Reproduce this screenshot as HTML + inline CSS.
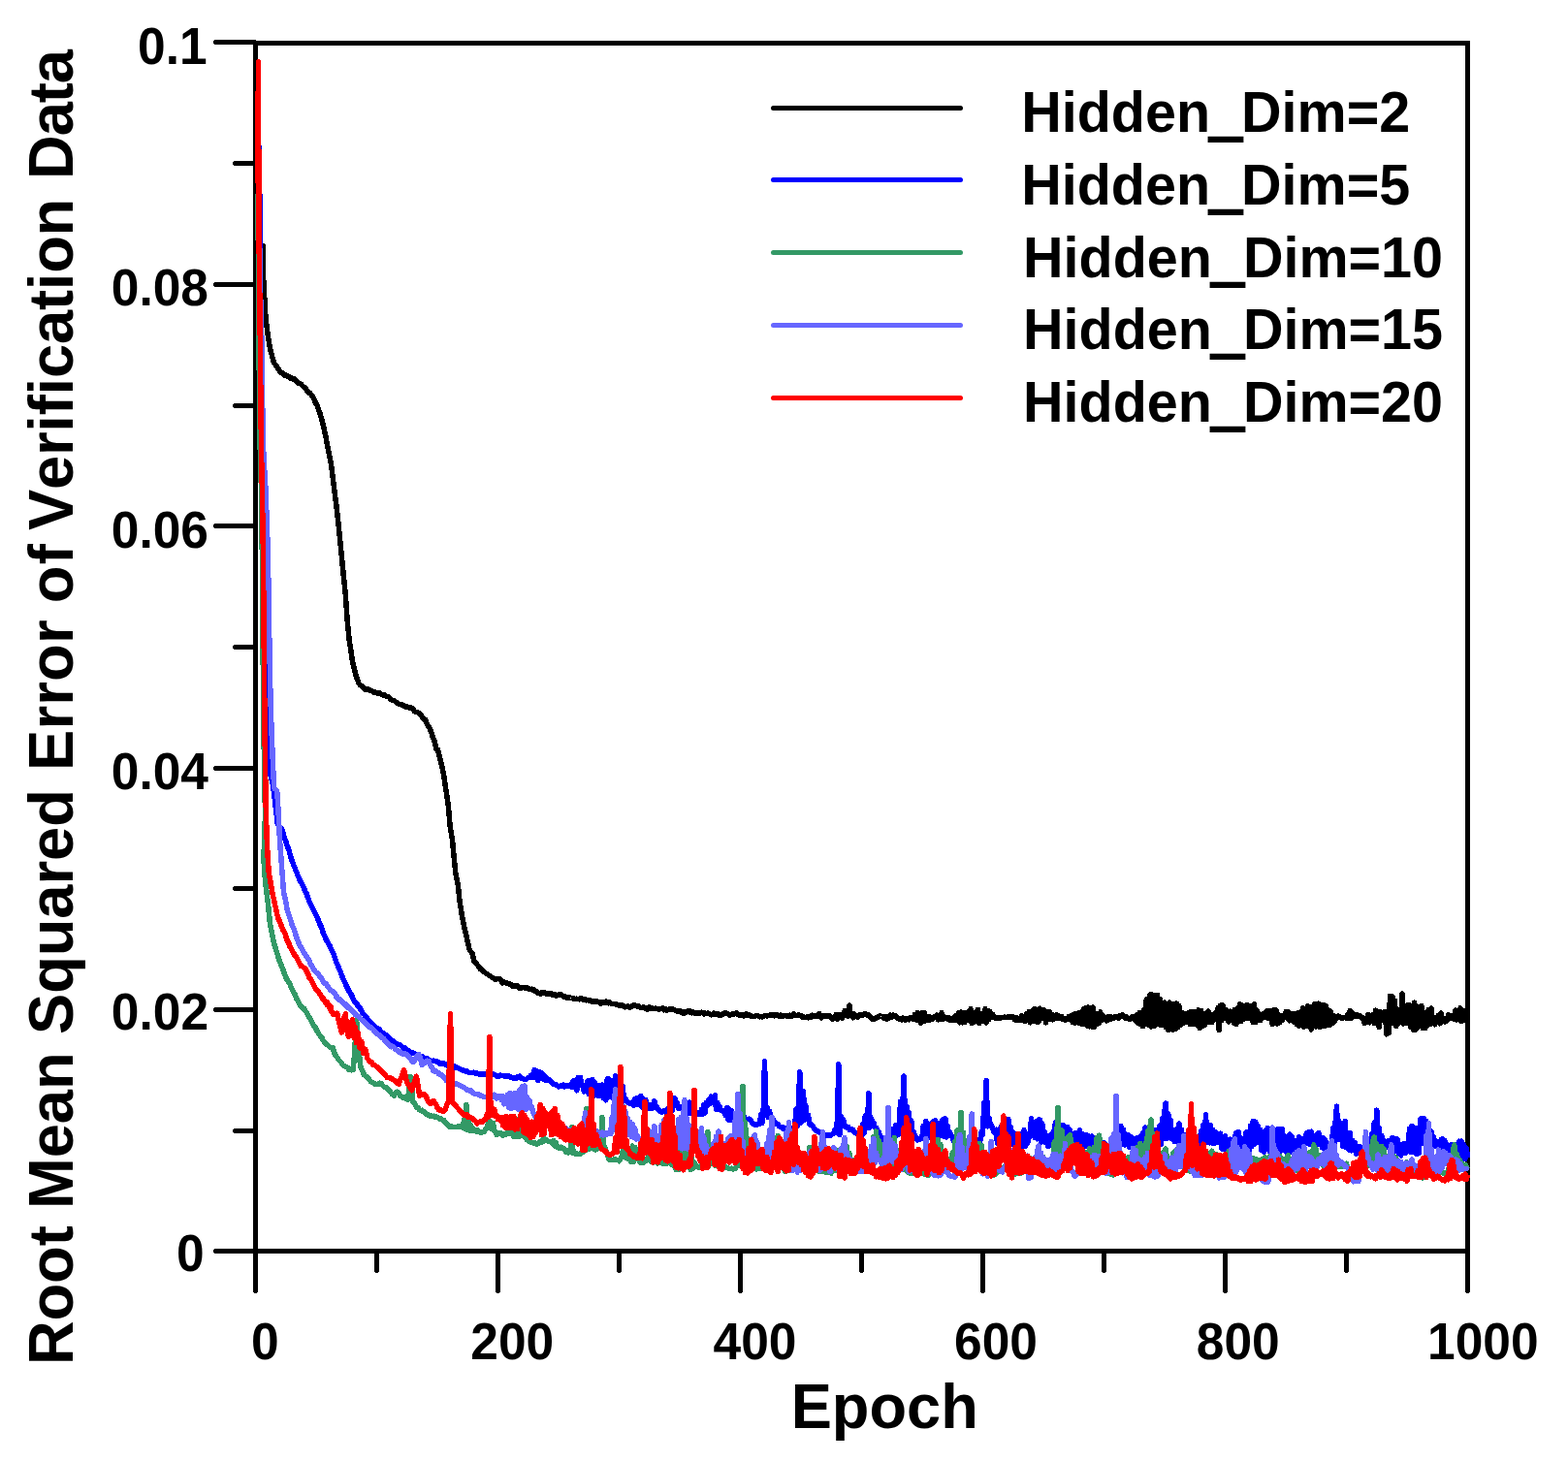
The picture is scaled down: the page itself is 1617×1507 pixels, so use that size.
<!DOCTYPE html>
<html lang="en">
<head>
<meta charset="utf-8">
<title>Root Mean Squared Error of Verification Data vs Epoch</title>
<style>
html, body { margin: 0; padding: 0; background: #ffffff; }
body { width: 1617px; height: 1507px; overflow: hidden; }
svg { display: block; }
text { font-family: "Liberation Sans", sans-serif; font-weight: bold; fill: #000000; font-kerning: none; font-variant-ligatures: none; font-feature-settings: "kern" 0, "liga" 0, "clig" 0; }
.tick { font-size: 51.5px; }
.title { font-size: 63.2px; }
.leg { font-size: 57.5px; }
.ax { stroke: #000000; stroke-width: 5; fill: none; stroke-linecap: round; }
.curve { fill: none; stroke-width: 5.5; stroke-linejoin: round; stroke-linecap: butt; }
</style>
</head>
<body>
<svg width="1617" height="1507" viewBox="0 0 1617 1507">
<rect x="0" y="0" width="1617" height="1507" fill="#ffffff"/>
<g id="axes" shape-rendering="crispEdges">
<rect x="263.5" y="44.5" width="1250.0" height="1246.0" fill="none" stroke="#000" stroke-width="5"/>
<path d="M221,1288 H263.5 V1293 H221 L220,1292 V1289 Z" fill="#000"/>
<path d="M241,1164 H263.5 V1169 H241 L240,1168 V1165 Z" fill="#000"/>
<path d="M221,1039 H263.5 V1044 H221 L220,1043 V1040 Z" fill="#000"/>
<path d="M241,914 H263.5 V919 H241 L240,918 V915 Z" fill="#000"/>
<path d="M221,790 H263.5 V795 H221 L220,794 V791 Z" fill="#000"/>
<path d="M241,665 H263.5 V670 H241 L240,669 V666 Z" fill="#000"/>
<path d="M221,540 H263.5 V545 H221 L220,544 V541 Z" fill="#000"/>
<path d="M241,416 H263.5 V421 H241 L240,420 V417 Z" fill="#000"/>
<path d="M221,291 H263.5 V296 H221 L220,295 V292 Z" fill="#000"/>
<path d="M241,166 H263.5 V171 H241 L240,170 V167 Z" fill="#000"/>
<path d="M221,41 H263.5 V46 H221 L220,45 V42 Z" fill="#000"/>
<path d="M261.0,1290.5 V1332.5 L262.0,1333.7 L263.0,1334 H264.0 L265.0,1333.7 L266.0,1332.5 V1290.5 Z" fill="#000"/>
<path d="M386.0,1290.5 V1311.5 L387.0,1312.7 L388.0,1313 H389.0 L390.0,1312.7 L391.0,1311.5 V1290.5 Z" fill="#000"/>
<path d="M511.0,1290.5 V1332.5 L512.0,1333.7 L513.0,1334 H514.0 L515.0,1333.7 L516.0,1332.5 V1290.5 Z" fill="#000"/>
<path d="M636.0,1290.5 V1311.5 L637.0,1312.7 L638.0,1313 H639.0 L640.0,1312.7 L641.0,1311.5 V1290.5 Z" fill="#000"/>
<path d="M761.0,1290.5 V1332.5 L762.0,1333.7 L763.0,1334 H764.0 L765.0,1333.7 L766.0,1332.5 V1290.5 Z" fill="#000"/>
<path d="M886.0,1290.5 V1311.5 L887.0,1312.7 L888.0,1313 H889.0 L890.0,1312.7 L891.0,1311.5 V1290.5 Z" fill="#000"/>
<path d="M1011.0,1290.5 V1332.5 L1012.0,1333.7 L1013.0,1334 H1014.0 L1015.0,1333.7 L1016.0,1332.5 V1290.5 Z" fill="#000"/>
<path d="M1136.0,1290.5 V1311.5 L1137.0,1312.7 L1138.0,1313 H1139.0 L1140.0,1312.7 L1141.0,1311.5 V1290.5 Z" fill="#000"/>
<path d="M1261.0,1290.5 V1332.5 L1262.0,1333.7 L1263.0,1334 H1264.0 L1265.0,1333.7 L1266.0,1332.5 V1290.5 Z" fill="#000"/>
<path d="M1386.0,1290.5 V1311.5 L1387.0,1312.7 L1388.0,1313 H1389.0 L1390.0,1312.7 L1391.0,1311.5 V1290.5 Z" fill="#000"/>
<path d="M1511.0,1290.5 V1332.5 L1512.0,1333.7 L1513.0,1334 H1514.0 L1515.0,1333.7 L1516.0,1332.5 V1290.5 Z" fill="#000"/>
</g>
<g id="curves" shape-rendering="crispEdges">
<polyline class="curve" stroke="#000000" points="265.5,253.2 270.9,253.2 271.2,280.0 272.4,300.0 273.2,316.0 274.2,330.0 276.3,346.2 278.5,359.4 281.2,369.5 282.5,374.0 289.8,384.7 291.1,384.7 292.5,386.3 293.8,387.3 295.1,387.1 296.4,387.9 297.8,388.5 299.1,389.5 300.4,390.6 301.8,390.2 303.1,391.3 304.4,391.2 305.7,393.4 307.1,394.2 308.4,395.7 309.7,395.6 311.1,396.9 312.4,398.5 313.7,399.3 315.2,400.5 316.6,403.1 318.1,405.0 319.5,405.2 321.0,407.2 322.5,408.8 324.0,412.1 325.5,415.8 327.0,417.8 328.3,421.9 329.6,425.3 331.0,429.8 332.3,434.5 333.6,440.0 334.9,445.6 336.3,452.3 337.6,459.9 338.9,466.0 340.2,472.9 341.6,479.8 343.2,492.5 344.9,506.4 346.6,518.9 348.2,532.9 349.5,545.3 350.9,559.4 352.2,572.3 353.5,586.0 354.8,598.7 356.2,612.5 358.2,640.0 360.1,659.9 361.8,670.1 363.5,682.5 365.1,689.2 366.8,695.7 368.4,700.5 370.1,705.0 371.6,706.9 373.2,707.7 374.8,709.7 376.1,710.8 377.4,711.5 378.7,710.8 380.1,711.0 381.4,712.1 382.7,712.3 384.0,713.2 385.4,714.1 386.7,713.8 388.0,714.7 389.4,715.0 390.7,714.6 392.0,715.2 393.3,716.3 394.7,716.9 396.0,716.3 397.3,717.7 398.6,718.5 400.0,718.4 401.3,719.3 402.6,721.0 403.9,721.9 405.3,722.4 406.6,722.7 407.9,723.9 409.3,725.1 410.6,725.6 411.9,726.6 413.2,726.6 414.6,727.0 415.9,727.6 417.2,728.7 418.6,729.0 419.9,729.1 421.2,729.7 422.5,730.2 423.9,730.1 425.2,730.5 426.5,732.3 427.8,734.1 429.2,734.6 430.5,734.8 431.8,735.5 433.1,736.3 434.5,738.0 435.8,740.3 437.1,741.7 438.4,742.2 439.8,745.3 441.1,748.4 442.4,750.0 443.8,752.8 445.1,756.3 446.4,760.7 447.7,763.4 450.0,772.7 451.6,773.3 453.2,780.4 454.9,786.5 457.4,798.2 459.9,814.7 462.4,831.3 464.0,851.2 466.5,866.2 468.2,884.4 469.8,901.0 472.3,912.6 474.0,929.2 476.4,944.1 478.9,957.4 481.4,967.4 483.9,979.0 485.6,981.6 487.2,984.0 488.9,991.4 490.6,993.0 492.2,995.2 493.9,997.2 495.3,999.5 496.8,999.6 498.2,1001.9 499.7,1003.0 509.8,1009.7 511.0,1010.2 512.2,1009.8 513.5,1009.7 514.8,1009.7 516.0,1010.2 517.2,1012.4 518.5,1013.9 519.8,1013.1 521.0,1013.6 522.2,1013.9 523.5,1014.5 524.8,1014.8 526.0,1014.8 527.2,1016.1 528.5,1017.1 529.8,1016.7 531.0,1016.9 532.2,1016.7 533.5,1016.8 534.8,1018.4 536.0,1019.4 537.2,1019.4 538.5,1018.6 539.8,1018.7 541.0,1018.8 542.2,1019.4 543.5,1019.0 544.8,1019.8 546.0,1020.2 547.2,1020.7 548.5,1020.2 549.8,1021.6 551.0,1021.0 552.2,1022.5 553.5,1022.9 554.8,1024.2 556.0,1024.5 557.2,1025.3 558.5,1024.0 559.8,1024.3 561.0,1023.9 562.2,1024.0 563.5,1025.2 564.8,1025.3 566.0,1025.3 567.2,1024.5 568.5,1024.8 569.8,1026.4 571.0,1026.8 572.2,1025.9 573.5,1027.0 574.8,1026.8 576.0,1026.2 577.2,1025.7 578.5,1025.9 579.8,1027.0 581.0,1027.9 582.2,1027.9 583.5,1028.7 584.8,1029.4 586.0,1029.5 587.2,1028.4 588.5,1029.5 589.8,1029.5 591.0,1029.4 592.2,1030.4 593.5,1030.6 594.8,1030.2 596.0,1030.5 597.2,1030.8 598.5,1029.9 599.8,1029.7 601.0,1031.1 602.2,1030.9 603.5,1030.9 604.8,1031.8 606.0,1031.4 607.2,1032.1 608.5,1032.0 609.8,1032.9 611.0,1033.0 612.2,1033.4 613.5,1033.0 614.8,1032.5 616.0,1033.3 617.2,1033.3 618.5,1034.2 619.8,1035.3 621.0,1033.7 622.2,1033.3 623.5,1034.1 624.8,1033.2 626.0,1034.4 627.2,1034.8 628.5,1033.7 629.8,1035.0 631.0,1035.7 632.2,1035.3 633.5,1035.4 634.8,1035.6 636.0,1036.2 637.2,1036.6 638.5,1037.1 639.8,1037.1 641.0,1037.3 642.2,1037.1 643.5,1038.2 644.8,1038.8 646.0,1038.5 647.2,1038.1 648.5,1038.2 649.8,1039.2 651.0,1038.1 652.2,1037.9 653.5,1036.7 654.8,1037.0 656.0,1037.7 657.2,1038.0 658.5,1037.7 659.8,1038.8 661.0,1039.8 662.2,1039.4 663.5,1038.8 664.8,1039.9 666.0,1040.2 667.2,1041.3 668.5,1039.6 669.8,1038.8 671.0,1040.2 672.2,1039.6 673.5,1040.4 674.8,1040.7 676.0,1040.0 677.2,1040.6 678.5,1040.6 679.8,1041.3 681.0,1040.4 682.2,1040.5 683.5,1040.0 684.8,1041.7 686.0,1040.7 687.2,1042.2 688.5,1041.9 689.8,1041.2 691.0,1041.4 692.2,1040.4 693.5,1041.1 694.8,1041.3 696.0,1042.1 697.2,1042.8 698.5,1043.0 699.8,1042.8 701.0,1042.5 702.2,1043.8 703.5,1044.8 704.8,1045.5 706.0,1043.8 707.2,1044.2 708.5,1043.5 709.8,1042.4 711.0,1044.1 712.2,1043.3 713.5,1044.8 714.8,1044.1 716.0,1044.2 717.2,1045.5 718.5,1045.6 719.8,1044.5 721.0,1045.5 722.2,1044.9 723.5,1044.2 724.8,1044.8 726.0,1046.1 727.2,1045.0 728.5,1045.7 729.8,1045.0 731.0,1045.2 732.2,1046.1 733.5,1046.8 734.8,1046.7 736.0,1045.0 737.2,1046.4 738.5,1045.7 739.8,1045.6 741.0,1046.4 742.2,1047.4 743.5,1047.5 744.8,1046.6 746.0,1045.3 747.2,1044.9 748.5,1045.0 749.8,1045.5 751.0,1045.8 752.2,1046.9 753.5,1046.8 754.8,1046.2 756.0,1046.3 757.2,1045.3 758.5,1045.2 759.8,1045.1 761.0,1046.3 762.2,1047.3 763.5,1047.2 764.8,1046.4 766.0,1046.7 767.2,1048.0 768.5,1046.8 769.8,1045.9 771.0,1047.5 772.2,1046.6 773.5,1047.5 774.8,1048.2 776.0,1048.5 777.2,1048.3 778.5,1048.3 779.8,1047.6 781.0,1047.3 782.2,1048.2 783.5,1048.8 784.8,1048.3 786.0,1049.0 787.2,1048.3 788.5,1047.7 789.8,1047.3 791.0,1047.9 792.2,1047.4 793.5,1047.6 794.8,1046.7 796.0,1047.6 797.2,1046.7 798.5,1047.8 799.8,1046.9 801.0,1046.7 802.2,1047.0 803.5,1048.2 804.8,1047.0 806.0,1047.4 807.2,1048.4 808.5,1047.9 809.8,1047.4 811.0,1047.7 812.2,1048.4 813.5,1048.3 814.8,1047.3 816.0,1048.6 817.2,1046.9 818.5,1045.4 819.8,1047.0 821.0,1047.3 822.2,1047.4 823.5,1047.1 824.8,1047.3 826.0,1047.5 827.2,1049.3 828.5,1048.9 829.8,1049.4 831.0,1049.8 832.2,1048.7 833.5,1049.9 834.8,1048.9 836.0,1049.7 837.2,1047.2 838.5,1047.3 839.8,1047.9 841.0,1048.0 842.2,1048.2 843.5,1048.4 844.8,1045.4 846.0,1048.9 847.2,1049.9 848.5,1048.0 849.8,1047.7 851.0,1047.8 852.2,1048.7 853.5,1047.9 854.8,1048.1 856.0,1048.0 857.2,1049.5 858.5,1051.1 859.8,1049.3 861.0,1049.8 862.2,1046.7 863.5,1051.3 864.8,1047.2 866.0,1049.3 867.2,1046.6 868.5,1050.3 869.8,1046.4 871.0,1042.6 872.2,1045.9 873.5,1045.0 874.8,1048.3 876.0,1037.1 877.2,1047.3 878.5,1045.6 879.8,1049.7 881.0,1046.2 882.2,1047.8 883.5,1048.2 884.8,1049.2 886.0,1047.1 887.2,1046.5 888.5,1047.6 889.8,1046.6 891.0,1046.1 892.2,1045.6 893.5,1046.9 894.8,1047.0 896.0,1046.8 897.2,1048.6 898.5,1050.3 899.8,1051.4 901.0,1051.8 902.2,1050.5 903.5,1049.7 904.8,1049.8 906.0,1048.6 907.2,1047.8 908.5,1048.5 909.8,1048.5 911.0,1048.8 912.2,1050.6 913.5,1048.8 914.8,1051.4 916.0,1048.5 917.2,1050.0 918.5,1047.1 919.8,1049.1 921.0,1047.1 922.2,1047.8 923.5,1047.8 924.8,1049.2 926.0,1050.4 927.2,1051.3 928.5,1050.7 929.8,1051.8 931.0,1050.2 932.2,1051.3 933.5,1052.5 934.8,1050.6 936.0,1051.5 937.2,1051.8 938.5,1049.5 939.8,1049.8 941.0,1049.8 942.2,1051.5 943.5,1046.3 944.8,1052.0 946.0,1044.6 947.2,1052.2 948.5,1045.5 949.8,1055.3 951.0,1044.5 952.2,1053.6 953.5,1044.8 954.8,1052.8 956.0,1048.5 957.2,1052.5 958.5,1049.0 959.8,1051.8 961.0,1050.5 962.2,1050.8 963.5,1048.6 964.8,1049.4 966.0,1047.1 967.2,1051.8 968.5,1047.2 969.8,1051.5 971.0,1044.5 972.2,1051.2 973.5,1049.0 974.8,1049.8 976.0,1049.5 977.2,1051.2 978.5,1050.0 979.8,1052.1 981.0,1050.9 982.2,1052.5 983.5,1049.6 984.8,1052.4 986.0,1047.4 987.2,1052.3 988.5,1045.0 989.8,1054.8 991.0,1044.0 992.2,1054.8 993.5,1044.9 994.8,1054.6 996.0,1044.7 997.2,1052.1 998.5,1043.9 999.8,1052.2 1001.0,1040.5 1002.2,1055.7 1003.5,1044.4 1004.8,1054.3 1006.0,1044.1 1007.2,1053.1 1008.5,1041.4 1009.8,1055.6 1011.0,1045.7 1012.2,1053.7 1013.5,1048.1 1014.8,1053.5 1016.0,1040.6 1017.2,1055.0 1018.5,1042.4 1019.8,1051.8 1021.0,1043.6 1022.2,1048.9 1023.5,1046.1 1024.8,1049.2 1026.0,1049.5 1027.2,1050.7 1028.5,1050.1 1029.8,1049.9 1031.0,1050.3 1032.2,1049.9 1033.5,1049.4 1034.8,1049.4 1036.0,1049.0 1037.2,1049.5 1038.5,1049.1 1039.8,1049.0 1041.0,1048.6 1042.2,1049.6 1043.5,1048.7 1044.8,1049.0 1046.0,1051.2 1047.2,1052.3 1048.5,1049.5 1049.8,1052.5 1051.0,1051.1 1052.2,1051.7 1053.5,1047.9 1054.8,1052.5 1056.0,1049.3 1057.2,1053.2 1058.5,1045.7 1059.8,1051.2 1061.0,1043.8 1062.2,1054.8 1063.5,1043.5 1064.8,1053.7 1066.0,1040.9 1067.2,1040.8 1068.5,1053.8 1069.8,1041.3 1071.0,1054.2 1072.2,1040.1 1073.5,1050.8 1074.8,1041.7 1076.0,1047.7 1077.2,1041.9 1078.5,1054.8 1079.8,1043.8 1081.0,1051.0 1082.2,1043.4 1083.5,1051.0 1084.8,1046.4 1086.0,1051.8 1087.2,1047.3 1088.5,1050.3 1089.8,1047.0 1091.0,1050.5 1092.2,1048.3 1093.5,1050.6 1094.8,1048.6 1096.0,1051.3 1097.2,1051.5 1098.5,1052.5 1099.8,1050.4 1101.0,1051.3 1102.2,1048.6 1103.5,1051.8 1104.8,1047.8 1106.0,1054.3 1107.2,1046.2 1108.5,1055.4 1109.8,1045.6 1111.0,1053.0 1112.2,1044.9 1113.5,1055.7 1114.8,1044.4 1116.0,1056.3 1117.2,1041.0 1118.5,1053.3 1119.8,1039.8 1121.0,1057.9 1122.2,1039.0 1123.5,1058.9 1124.8,1039.5 1126.0,1059.0 1127.2,1038.9 1128.5,1059.4 1129.8,1045.4 1131.0,1056.4 1132.2,1046.3 1133.5,1055.2 1134.8,1043.9 1136.0,1052.6 1137.2,1047.7 1138.5,1050.3 1139.8,1049.4 1141.0,1053.0 1142.2,1049.0 1143.5,1051.9 1144.8,1048.5 1146.0,1051.2 1147.2,1049.9 1148.5,1050.3 1149.8,1048.5 1151.0,1049.3 1152.2,1048.6 1153.5,1049.9 1154.8,1047.6 1156.0,1047.9 1157.2,1046.9 1158.5,1047.6 1159.8,1049.0 1161.0,1050.5 1162.2,1049.2 1163.5,1050.6 1164.8,1051.4 1166.0,1050.3 1167.2,1049.2 1168.5,1050.6 1169.8,1048.9 1171.0,1053.0 1172.2,1047.1 1173.5,1055.0 1174.8,1044.9 1176.0,1056.7 1177.2,1045.0 1178.5,1058.6 1179.8,1041.4 1181.0,1056.5 1182.2,1031.1 1183.5,1056.8 1184.8,1030.9 1186.0,1025.9 1187.2,1059.2 1188.5,1026.1 1189.8,1058.5 1191.0,1035.4 1192.2,1057.1 1193.5,1026.5 1194.8,1056.2 1196.0,1030.2 1197.2,1057.8 1198.5,1037.3 1199.8,1056.0 1201.0,1034.0 1202.2,1059.7 1203.5,1046.3 1204.8,1062.4 1206.0,1034.1 1207.2,1060.5 1208.5,1036.8 1209.8,1062.0 1211.0,1035.5 1212.2,1061.6 1213.5,1035.0 1214.8,1059.4 1216.0,1037.6 1217.2,1057.7 1218.5,1044.3 1219.8,1055.6 1221.0,1045.3 1222.2,1054.4 1223.5,1045.8 1224.8,1053.0 1226.0,1044.7 1227.2,1056.4 1228.5,1043.6 1229.8,1056.2 1231.0,1043.8 1232.2,1056.5 1233.5,1043.9 1234.8,1057.5 1236.0,1041.8 1237.2,1060.3 1238.5,1042.5 1239.8,1058.8 1241.0,1050.5 1242.2,1057.6 1243.5,1045.6 1244.8,1054.8 1246.0,1042.9 1247.2,1054.0 1248.5,1046.6 1249.8,1054.7 1251.0,1047.2 1252.2,1050.8 1253.5,1044.6 1254.8,1051.1 1256.0,1039.6 1257.2,1062.6 1258.5,1037.2 1259.8,1052.9 1261.0,1036.8 1262.2,1050.7 1263.5,1041.1 1264.8,1049.2 1266.0,1042.8 1267.2,1054.2 1268.5,1043.2 1269.8,1048.1 1271.0,1045.1 1272.2,1055.1 1273.5,1041.4 1274.8,1056.6 1276.0,1040.0 1277.2,1053.9 1278.5,1035.7 1279.8,1053.4 1281.0,1037.1 1282.2,1051.2 1283.5,1041.9 1284.8,1050.1 1286.0,1036.3 1287.2,1050.6 1288.5,1040.0 1289.8,1050.2 1291.0,1037.2 1292.2,1054.7 1293.5,1035.7 1294.8,1054.6 1296.0,1041.9 1297.2,1044.8 1298.5,1046.1 1299.8,1052.4 1301.0,1047.3 1302.2,1049.7 1303.5,1045.1 1304.8,1049.0 1306.0,1043.1 1307.2,1050.2 1308.5,1042.3 1309.8,1050.6 1311.0,1045.7 1312.2,1056.4 1313.5,1041.7 1314.8,1050.4 1316.0,1041.9 1317.2,1056.0 1318.5,1046.6 1319.8,1054.8 1321.0,1047.8 1322.2,1052.7 1323.5,1047.8 1324.8,1049.5 1326.0,1043.8 1327.2,1049.9 1328.5,1043.8 1329.8,1052.8 1331.0,1045.8 1332.2,1052.6 1333.5,1045.6 1334.8,1054.6 1336.0,1045.2 1337.2,1056.6 1338.5,1044.9 1339.8,1058.2 1341.0,1044.1 1342.2,1056.3 1343.5,1039.9 1344.8,1059.3 1346.0,1043.0 1347.2,1058.5 1348.5,1037.7 1349.8,1059.0 1351.0,1039.4 1352.2,1062.1 1353.5,1038.5 1354.8,1058.9 1356.0,1035.4 1357.2,1059.0 1358.5,1035.4 1359.8,1035.2 1361.0,1059.3 1362.2,1036.2 1363.5,1058.5 1364.8,1036.4 1366.0,1058.7 1367.2,1037.4 1368.5,1057.7 1369.8,1041.9 1371.0,1057.6 1372.2,1043.1 1373.5,1056.0 1374.8,1047.1 1376.0,1054.2 1377.2,1048.5 1378.5,1050.0 1379.8,1048.1 1381.0,1048.2 1382.2,1049.1 1383.5,1050.1 1384.8,1050.1 1386.0,1049.5 1387.2,1049.6 1388.5,1050.4 1389.8,1046.6 1391.0,1050.5 1392.2,1042.6 1393.5,1050.3 1394.8,1044.7 1396.0,1048.7 1397.2,1047.0 1398.5,1048.5 1399.8,1046.9 1401.0,1048.1 1402.2,1047.7 1403.5,1048.5 1404.8,1050.9 1406.0,1050.0 1407.2,1055.4 1408.5,1050.1 1409.8,1051.4 1411.0,1046.3 1412.2,1054.9 1413.5,1047.5 1414.8,1052.8 1416.0,1046.3 1417.2,1055.4 1418.5,1042.2 1419.8,1052.7 1421.0,1044.6 1422.2,1059.8 1423.5,1043.5 1424.8,1052.8 1426.0,1044.4 1427.2,1053.0 1428.5,1043.4 1429.8,1066.8 1431.0,1043.5 1432.2,1065.7 1433.5,1027.4 1434.8,1055.7 1436.0,1027.8 1437.2,1053.5 1438.5,1032.5 1439.8,1058.5 1441.0,1042.2 1442.2,1055.3 1443.5,1041.4 1444.8,1053.8 1446.0,1025.0 1447.2,1055.9 1448.5,1037.1 1449.8,1055.1 1451.0,1037.1 1452.2,1055.2 1453.5,1036.7 1454.8,1059.3 1456.0,1040.1 1457.2,1062.0 1458.5,1034.2 1459.8,1062.3 1461.0,1037.9 1462.2,1060.2 1463.5,1038.7 1464.8,1049.5 1466.0,1037.6 1467.2,1060.6 1468.5,1044.3 1469.8,1060.6 1471.0,1043.9 1472.2,1057.3 1473.5,1041.3 1474.8,1056.6 1476.0,1040.0 1477.2,1054.7 1478.5,1049.6 1479.8,1056.8 1481.0,1050.2 1482.2,1053.0 1483.5,1047.4 1484.8,1055.8 1486.0,1045.0 1487.2,1053.8 1488.5,1050.2 1489.8,1054.0 1491.0,1050.6 1492.2,1052.8 1493.5,1046.8 1494.8,1050.6 1496.0,1048.4 1497.2,1047.9 1498.5,1047.1 1499.8,1051.5 1501.0,1042.1 1502.2,1052.1 1503.5,1042.2 1504.8,1052.0 1506.0,1039.8 1507.2,1053.8 1508.5,1042.2 1509.8,1052.3 1511.0,1042.5 1512.2,1052.0"/>
<polyline class="curve" stroke="#0000ff" points="265.5,160.0 267.5,152.0 268.0,241.0 268.8,321.0 270.5,450.0 272.8,610.0 275.0,719.0 277.5,783.0 279.4,802.0 281.4,809.0 283.0,822.0 284.7,836.0 286.3,850.0 291.1,855.9 292.5,861.1 293.8,865.7 295.1,868.6 296.4,873.2 297.8,876.3 299.1,881.4 300.4,885.6 301.8,889.6 303.1,893.1 304.4,896.2 305.7,899.6 307.1,902.9 308.4,906.1 309.7,909.0 311.1,911.2 312.4,914.0 313.7,916.6 315.0,919.9 316.4,922.3 317.7,926.5 319.0,929.9 320.3,932.5 321.7,935.2 323.0,938.2 324.3,940.8 325.6,943.1 327.0,945.7 328.3,949.2 329.6,952.8 331.0,955.5 332.3,959.0 333.6,963.2 334.9,966.1 336.3,969.0 337.6,971.6 338.9,973.7 340.2,975.7 341.6,979.4 342.9,981.8 344.2,984.7 345.6,988.5 346.9,992.8 348.2,995.3 349.5,999.1 350.9,1001.4 352.2,1005.4 353.5,1008.8 354.8,1011.2 356.2,1014.6 357.5,1017.6 358.8,1020.1 360.1,1022.8 361.5,1024.5 362.8,1027.0 364.1,1030.1 365.5,1032.7 366.8,1033.8 368.1,1035.5 369.4,1037.7 370.8,1039.1 366.3,1033.3 367.6,1035.7 368.9,1037.2 370.2,1039.0 371.6,1040.8 372.9,1042.6 374.2,1045.1 375.6,1046.5 376.9,1048.6 378.2,1049.7 379.5,1052.1 380.9,1053.2 382.2,1055.4 383.5,1055.9 384.8,1057.0 386.2,1058.8 387.5,1059.9 388.8,1060.6 390.1,1061.1 391.5,1062.1 392.8,1063.8 394.1,1065.0 395.5,1065.4 396.8,1067.5 398.1,1067.8 399.4,1069.8 400.8,1070.1 402.1,1072.0 403.4,1073.0 404.8,1073.7 406.1,1074.4 407.4,1075.4 408.7,1076.4 410.1,1077.1 411.4,1077.4 412.7,1077.8 414.0,1078.9 415.4,1080.7 416.7,1081.3 418.0,1081.0 419.4,1082.4 420.7,1083.5 422.0,1084.5 423.3,1085.6 424.7,1085.3 426.0,1086.6 427.3,1086.3 428.6,1087.7 430.0,1088.2 431.3,1088.3 432.6,1088.5 433.9,1090.1 435.3,1089.7 436.6,1090.5 437.9,1091.8 439.3,1091.5 440.6,1091.7 441.9,1093.2 443.2,1093.3 444.6,1094.2 445.9,1094.3 447.2,1094.1 448.6,1094.6 449.9,1094.7 451.2,1095.8 452.5,1095.5 453.9,1097.2 455.2,1096.5 456.5,1097.6 457.8,1097.1 459.2,1098.3 460.5,1097.8 461.8,1099.2 463.1,1098.8 464.5,1098.8 465.8,1099.9 467.1,1100.0 468.4,1099.7 469.8,1101.4 471.1,1101.2 477.2,1103.8 478.5,1104.4 479.8,1104.8 481.0,1104.8 482.2,1105.4 483.5,1106.1 484.8,1106.6 486.0,1106.6 487.2,1106.3 488.5,1106.2 489.8,1106.8 491.0,1107.5 492.2,1107.0 493.5,1107.5 494.8,1108.3 496.0,1108.2 497.2,1107.7 498.5,1107.9 499.8,1108.3 501.0,1107.6 502.2,1107.5 503.5,1107.2 504.8,1107.4 506.0,1107.3 507.2,1107.5 508.5,1108.0 509.8,1108.5 511.0,1108.9 512.2,1110.1 513.5,1109.9 514.8,1109.9 516.0,1109.1 517.2,1109.3 518.5,1109.3 519.8,1109.3 521.0,1110.3 522.2,1110.3 523.5,1109.7 524.8,1109.8 526.0,1110.8 527.2,1111.2 528.5,1111.7 529.8,1112.3 531.0,1111.7 532.2,1112.3 533.5,1110.6 534.8,1110.5 536.0,1109.9 537.2,1111.9 538.5,1112.7 539.8,1112.9 541.0,1113.5 542.2,1113.6 543.5,1112.6 544.8,1111.3 546.0,1111.5 547.2,1109.4 548.5,1108.6 549.8,1111.0 551.0,1103.6 552.2,1111.4 553.5,1104.8 554.8,1114.5 556.0,1105.2 557.2,1112.3 558.5,1106.5 559.8,1112.8 561.0,1108.8 562.2,1114.2 563.5,1111.5 564.8,1113.9 566.0,1113.5 567.2,1114.4 568.5,1115.5 569.8,1118.0 571.0,1118.8 572.2,1118.5 573.5,1118.5 574.8,1120.0 576.0,1121.0 577.2,1120.5 578.5,1120.0 579.8,1119.9 581.0,1119.0 582.2,1121.0 583.5,1120.2 584.8,1120.7 586.0,1119.3 587.2,1119.9 588.5,1118.6 589.8,1121.6 591.0,1114.9 592.2,1119.8 593.5,1114.1 594.8,1124.8 596.0,1111.8 597.2,1119.1 598.5,1111.3 599.8,1119.5 601.0,1119.0 602.2,1125.9 603.5,1119.9 604.8,1121.7 606.0,1114.9 607.2,1128.4 608.5,1114.8 609.8,1129.5 611.0,1113.7 612.2,1130.8 613.5,1116.7 614.8,1128.2 616.0,1120.6 617.2,1130.5 618.5,1119.3 619.8,1129.9 621.0,1119.1 622.2,1132.9 623.5,1122.5 624.8,1134.8 626.0,1113.8 627.2,1112.5 628.5,1131.7 629.8,1114.1 631.0,1132.0 632.2,1114.7 633.5,1135.3 634.8,1109.9 636.0,1136.0 637.2,1113.2 638.5,1132.5 639.8,1113.7 641.0,1131.8 642.2,1120.1 643.5,1135.7 644.8,1132.9 646.0,1135.8 647.2,1137.2 648.5,1137.7 649.8,1138.2 651.0,1138.3 652.2,1137.1 653.5,1140.2 654.8,1133.5 656.0,1139.7 657.2,1132.4 658.5,1139.0 659.8,1134.1 661.0,1130.4 662.2,1142.2 663.5,1133.7 664.8,1143.5 666.0,1134.6 667.2,1143.3 668.5,1139.3 669.8,1142.9 671.0,1141.1 672.2,1143.4 673.5,1140.1 674.8,1135.8 676.0,1142.1 677.2,1141.8 678.5,1143.6 679.8,1145.5 681.0,1146.5 682.2,1147.0 683.5,1146.9 684.8,1145.5 686.0,1147.0 687.2,1144.8 688.5,1143.9 689.8,1142.4 691.0,1144.8 692.2,1141.5 693.5,1145.4 694.8,1133.2 696.0,1133.1 697.2,1140.6 698.5,1137.9 699.8,1143.2 701.0,1142.7 702.2,1143.7 703.5,1142.1 704.8,1144.7 706.0,1140.8 707.2,1145.6 708.5,1139.2 709.8,1148.2 711.0,1137.1 712.2,1148.0 713.5,1142.6 714.8,1148.2 716.0,1147.9 717.2,1147.6 718.5,1147.7 719.8,1149.1 721.0,1148.4 722.2,1149.2 723.5,1144.2 724.8,1149.4 726.0,1139.3 727.2,1147.9 728.5,1137.2 729.8,1139.8 731.0,1133.9 732.2,1138.4 733.5,1131.0 734.8,1136.3 736.0,1131.5 737.2,1129.8 738.5,1144.2 739.8,1137.5 741.0,1143.8 742.2,1141.5 743.5,1145.3 744.8,1145.4 746.0,1146.5 747.2,1147.2 748.5,1150.7 749.8,1142.3 751.0,1155.0 752.2,1144.0 753.5,1155.5 754.8,1146.0 756.0,1153.6 757.2,1148.5 758.5,1152.9 759.8,1149.2 761.0,1153.5 762.2,1151.5 763.5,1154.7 764.8,1151.5 766.0,1152.4 767.2,1151.5 768.5,1155.0 769.8,1154.8 771.0,1154.4 772.2,1154.2 773.5,1154.7 774.8,1156.3 776.0,1159.1 777.2,1159.4 778.5,1160.2 779.8,1160.6 781.0,1159.6 782.2,1159.5 783.5,1159.2 784.8,1149.0 786.0,1158.6 787.2,1146.1 788.5,1094.7 789.8,1146.0 791.0,1142.1 792.2,1152.7 793.5,1146.3 794.8,1151.3 796.0,1152.9 797.2,1154.7 798.5,1156.9 799.8,1158.8 801.0,1159.8 802.2,1159.8 803.5,1161.7 804.8,1162.7 806.0,1162.7 807.2,1164.2 808.5,1163.2 809.8,1165.8 811.0,1164.6 812.2,1164.8 813.5,1164.3 814.8,1165.1 816.0,1166.7 817.2,1166.5 818.5,1163.3 819.8,1160.7 821.0,1143.9 822.2,1162.1 823.5,1135.8 824.8,1105.9 826.0,1158.0 827.2,1127.8 828.5,1125.8 829.8,1155.3 831.0,1140.6 832.2,1151.8 833.5,1150.3 834.8,1160.0 836.0,1158.9 837.2,1160.6 838.5,1161.9 839.8,1164.2 841.0,1165.2 842.2,1166.5 843.5,1167.0 844.8,1167.2 846.0,1168.6 847.2,1169.3 848.5,1170.9 849.8,1170.8 851.0,1170.8 852.2,1171.3 853.5,1170.7 854.8,1171.5 856.0,1171.4 857.2,1170.3 858.5,1169.9 859.8,1168.6 861.0,1165.2 862.2,1168.4 863.5,1155.1 864.8,1098.0 866.0,1170.5 867.2,1151.0 868.5,1159.6 869.8,1155.0 871.0,1161.9 872.2,1161.8 873.5,1163.5 874.8,1162.6 876.0,1165.3 877.2,1165.6 878.5,1164.5 879.8,1165.6 881.0,1168.0 882.2,1168.0 883.5,1169.2 884.8,1168.3 886.0,1170.7 887.2,1164.0 888.5,1171.1 889.8,1159.0 891.0,1169.0 892.2,1151.0 893.5,1163.9 894.8,1150.6 896.0,1127.8 897.2,1162.9 898.5,1153.7 899.8,1158.8 901.0,1158.3 902.2,1162.8 903.5,1163.2 904.8,1166.1 906.0,1166.8 907.2,1171.3 908.5,1173.0 909.8,1175.5 911.0,1177.3 912.2,1178.3 913.5,1177.5 914.8,1178.3 916.0,1176.9 917.2,1174.3 918.5,1170.4 919.8,1173.4 921.0,1164.7 922.2,1171.8 923.5,1160.8 924.8,1171.3 926.0,1159.9 927.2,1170.0 928.5,1136.5 929.8,1166.4 931.0,1137.0 932.2,1109.9 933.5,1163.7 934.8,1140.7 936.0,1161.1 937.2,1147.4 938.5,1166.2 939.8,1155.9 941.0,1170.1 942.2,1167.7 943.5,1172.5 944.8,1173.3 946.0,1176.0 947.2,1175.3 948.5,1175.5 949.8,1173.0 951.0,1173.8 952.2,1161.1 953.5,1172.1 954.8,1156.4 956.0,1171.8 957.2,1160.6 958.5,1173.6 959.8,1159.7 961.0,1172.9 962.2,1156.8 963.5,1170.0 964.8,1155.8 966.0,1170.8 967.2,1158.8 968.5,1172.4 969.8,1158.7 971.0,1171.3 972.2,1154.8 973.5,1172.3 974.8,1153.7 976.0,1173.0 977.2,1161.5 978.5,1170.4 979.8,1168.3 981.0,1171.1 982.2,1173.0 983.5,1177.3 984.8,1178.5 986.0,1180.1 987.2,1178.0 988.5,1178.9 989.8,1178.8 991.0,1177.2 992.2,1177.3 993.5,1178.4 994.8,1176.9 996.0,1177.6 997.2,1179.4 998.5,1178.9 999.8,1176.9 1001.0,1177.0 1002.2,1175.8 1003.5,1176.7 1004.8,1176.4 1006.0,1176.0 1007.2,1176.4 1008.5,1176.8 1009.8,1175.7 1011.0,1176.4 1012.2,1167.5 1013.5,1170.5 1014.8,1137.6 1016.0,1154.1 1017.2,1114.5 1018.5,1161.9 1019.8,1153.0 1021.0,1158.7 1022.2,1160.2 1023.5,1163.3 1024.8,1167.0 1026.0,1168.9 1027.2,1165.2 1028.5,1179.3 1029.8,1164.9 1031.0,1177.5 1032.2,1162.4 1033.5,1175.1 1034.8,1166.9 1036.0,1172.5 1037.2,1164.6 1038.5,1171.5 1039.8,1154.4 1041.0,1171.3 1042.2,1161.9 1043.5,1176.7 1044.8,1167.7 1046.0,1181.7 1047.2,1169.8 1048.5,1182.6 1049.8,1175.5 1051.0,1186.7 1052.2,1172.8 1053.5,1187.1 1054.8,1168.6 1056.0,1165.7 1057.2,1182.5 1058.5,1172.7 1059.8,1178.9 1061.0,1169.4 1062.2,1172.9 1063.5,1153.7 1064.8,1170.4 1066.0,1158.9 1067.2,1173.8 1068.5,1156.9 1069.8,1174.9 1071.0,1155.0 1072.2,1155.0 1073.5,1178.3 1074.8,1159.0 1076.0,1177.7 1077.2,1167.0 1078.5,1178.5 1079.8,1171.5 1081.0,1182.8 1082.2,1180.3 1083.5,1180.4 1084.8,1169.6 1086.0,1179.3 1087.2,1165.9 1088.5,1157.7 1089.8,1180.4 1091.0,1164.9 1092.2,1170.1 1093.5,1163.7 1094.8,1170.8 1096.0,1160.5 1097.2,1170.4 1098.5,1162.0 1099.8,1170.0 1101.0,1162.5 1102.2,1169.5 1103.5,1165.7 1104.8,1172.0 1106.0,1169.9 1107.2,1177.9 1108.5,1169.0 1109.8,1179.9 1111.0,1168.5 1112.2,1180.6 1113.5,1165.7 1114.8,1181.5 1116.0,1169.2 1117.2,1182.0 1118.5,1170.8 1119.8,1182.4 1121.0,1171.0 1122.2,1181.9 1123.5,1172.0 1124.8,1182.0 1126.0,1172.0 1127.2,1177.6 1128.5,1176.8 1129.8,1180.4 1131.0,1177.6 1132.2,1179.1 1133.5,1178.8 1134.8,1179.0 1136.0,1179.7 1137.2,1180.1 1138.5,1179.0 1139.8,1179.8 1141.0,1181.2 1142.2,1182.5 1143.5,1181.8 1144.8,1183.5 1146.0,1183.0 1147.2,1183.3 1148.5,1174.5 1149.8,1182.8 1151.0,1164.4 1152.2,1181.8 1153.5,1161.5 1154.8,1180.2 1156.0,1161.7 1157.2,1179.9 1158.5,1165.5 1159.8,1181.1 1161.0,1170.0 1162.2,1180.0 1163.5,1170.8 1164.8,1183.5 1166.0,1172.2 1167.2,1184.0 1168.5,1175.3 1169.8,1181.9 1171.0,1174.3 1172.2,1180.8 1173.5,1173.4 1174.8,1175.6 1176.0,1172.0 1177.2,1175.5 1178.5,1169.0 1179.8,1181.3 1181.0,1163.0 1182.2,1180.4 1183.5,1164.7 1184.8,1181.4 1186.0,1163.2 1187.2,1181.9 1188.5,1167.1 1189.8,1182.5 1191.0,1166.0 1192.2,1181.3 1193.5,1165.7 1194.8,1174.0 1196.0,1161.1 1197.2,1180.6 1198.5,1153.8 1199.8,1174.5 1201.0,1145.8 1202.2,1137.8 1203.5,1174.4 1204.8,1149.0 1206.0,1168.9 1207.2,1155.4 1208.5,1174.7 1209.8,1165.2 1211.0,1177.4 1212.2,1168.0 1213.5,1177.1 1214.8,1164.0 1216.0,1159.0 1217.2,1180.5 1218.5,1165.2 1219.8,1178.7 1221.0,1170.7 1222.2,1177.4 1223.5,1172.4 1224.8,1180.4 1226.0,1174.2 1227.2,1179.3 1228.5,1174.7 1229.8,1181.0 1231.0,1172.0 1232.2,1180.1 1233.5,1173.7 1234.8,1179.2 1236.0,1176.2 1237.2,1180.8 1238.5,1166.7 1239.8,1180.1 1241.0,1160.2 1242.2,1179.3 1243.5,1149.7 1244.8,1176.0 1246.0,1163.6 1247.2,1178.9 1248.5,1160.9 1249.8,1179.1 1251.0,1165.5 1252.2,1179.4 1253.5,1167.6 1254.8,1177.5 1256.0,1169.3 1257.2,1178.3 1258.5,1169.2 1259.8,1184.8 1261.0,1174.1 1262.2,1185.4 1263.5,1171.9 1264.8,1182.4 1266.0,1175.3 1267.2,1185.6 1268.5,1175.1 1269.8,1185.7 1271.0,1178.5 1272.2,1181.2 1273.5,1173.7 1274.8,1168.3 1276.0,1175.9 1277.2,1167.5 1278.5,1183.4 1279.8,1173.7 1281.0,1182.7 1282.2,1174.4 1283.5,1185.5 1284.8,1168.2 1286.0,1183.9 1287.2,1167.3 1288.5,1186.0 1289.8,1161.2 1291.0,1182.5 1292.2,1156.4 1293.5,1180.1 1294.8,1157.1 1296.0,1177.7 1297.2,1161.4 1298.5,1178.9 1299.8,1165.5 1301.0,1186.4 1302.2,1167.8 1303.5,1188.4 1304.8,1167.0 1306.0,1185.5 1307.2,1163.6 1308.5,1164.3 1309.8,1188.8 1311.0,1166.7 1312.2,1189.1 1313.5,1167.1 1314.8,1188.5 1316.0,1165.5 1317.2,1189.0 1318.5,1164.3 1319.8,1188.6 1321.0,1169.9 1322.2,1164.3 1323.5,1185.3 1324.8,1171.7 1326.0,1188.2 1327.2,1174.6 1328.5,1187.3 1329.8,1170.0 1331.0,1188.5 1332.2,1171.9 1333.5,1186.5 1334.8,1179.4 1336.0,1187.6 1337.2,1176.7 1338.5,1178.3 1339.8,1172.8 1341.0,1182.8 1342.2,1175.0 1343.5,1181.1 1344.8,1174.2 1346.0,1179.7 1347.2,1169.0 1348.5,1179.2 1349.8,1167.4 1351.0,1180.5 1352.2,1167.2 1353.5,1181.1 1354.8,1174.7 1356.0,1182.9 1357.2,1170.9 1358.5,1180.0 1359.8,1168.3 1361.0,1180.8 1362.2,1174.4 1363.5,1183.7 1364.8,1173.7 1366.0,1185.7 1367.2,1176.8 1368.5,1187.4 1369.8,1180.8 1371.0,1182.9 1372.2,1179.7 1373.5,1180.6 1374.8,1162.9 1376.0,1182.4 1377.2,1156.5 1378.5,1141.1 1379.8,1175.2 1381.0,1156.6 1382.2,1175.8 1383.5,1159.8 1384.8,1182.5 1386.0,1167.0 1387.2,1156.4 1388.5,1183.5 1389.8,1171.6 1391.0,1186.2 1392.2,1168.2 1393.5,1187.0 1394.8,1176.6 1396.0,1181.8 1397.2,1178.4 1398.5,1190.4 1399.8,1183.4 1401.0,1187.9 1402.2,1182.8 1403.5,1186.8 1404.8,1185.9 1406.0,1187.7 1407.2,1187.1 1408.5,1188.6 1409.8,1187.7 1411.0,1183.7 1412.2,1179.8 1413.5,1183.7 1414.8,1169.2 1416.0,1175.7 1417.2,1158.3 1418.5,1169.8 1419.8,1145.1 1421.0,1177.1 1422.2,1163.1 1423.5,1178.8 1424.8,1171.6 1426.0,1180.7 1427.2,1176.7 1428.5,1181.5 1429.8,1180.0 1431.0,1183.6 1432.2,1176.4 1433.5,1182.0 1434.8,1175.1 1436.0,1173.6 1437.2,1181.0 1438.5,1174.6 1439.8,1187.5 1441.0,1174.8 1442.2,1189.7 1443.5,1182.3 1444.8,1192.1 1446.0,1180.5 1447.2,1189.7 1448.5,1179.3 1449.8,1189.2 1451.0,1183.5 1452.2,1183.9 1453.5,1164.4 1454.8,1188.0 1456.0,1161.4 1457.2,1162.3 1458.5,1188.7 1459.8,1163.5 1461.0,1190.4 1462.2,1167.2 1463.5,1189.3 1464.8,1154.9 1466.0,1153.7 1467.2,1175.7 1468.5,1153.8 1469.8,1180.5 1471.0,1156.5 1472.2,1179.5 1473.5,1162.4 1474.8,1180.8 1476.0,1167.0 1477.2,1178.3 1478.5,1172.5 1479.8,1182.6 1481.0,1178.3 1482.2,1182.5 1483.5,1177.7 1484.8,1181.9 1486.0,1175.6 1487.2,1174.9 1488.5,1186.6 1489.8,1176.2 1491.0,1186.5 1492.2,1180.2 1493.5,1186.2 1494.8,1181.8 1496.0,1187.5 1497.2,1180.7 1498.5,1189.2 1499.8,1181.5 1501.0,1191.4 1502.2,1180.3 1503.5,1193.7 1504.8,1177.2 1506.0,1194.6 1507.2,1177.0 1508.5,1195.0 1509.8,1181.0 1511.0,1195.6 1512.2,1184.0 1513.5,1194.3"/>
<polyline class="curve" stroke="#339966" points="265.5,200.0 266.5,262.0 266.5,357.0 267.5,390.0 267.6,450.0 269.0,480.0 270.2,560.0 271.0,650.0 271.5,720.0 272.5,790.0 273.5,840.0 271.9,886.5 273.6,909.0 276.5,932.9 278.5,952.8 282.5,972.7 287.8,990.0 289.1,993.0 290.5,996.7 291.8,1000.0 293.1,1003.8 294.5,1007.2 295.9,1010.4 297.3,1012.3 298.8,1014.7 300.2,1018.8 301.6,1021.2 303.1,1024.5 304.4,1026.2 305.7,1029.9 307.1,1032.0 308.4,1034.9 309.7,1036.9 311.1,1039.1 313.2,1039.9 314.5,1042.4 315.8,1043.7 317.2,1046.3 318.5,1049.1 319.8,1050.5 321.1,1053.3 322.5,1055.9 323.8,1058.3 325.1,1059.5 326.4,1062.5 327.8,1064.8 329.1,1067.0 330.4,1068.6 331.8,1070.0 333.1,1073.1 334.4,1074.6 335.7,1075.8 337.1,1077.5 338.4,1078.4 339.9,1079.9 341.5,1080.5 343.0,1080.4 345.0,1086.4 346.4,1089.5 347.7,1090.7 349.0,1093.0 350.3,1094.3 351.7,1095.8 353.0,1097.8 354.3,1099.4 355.6,1099.6 357.0,1100.5 358.3,1101.1 359.6,1103.0 361.2,1102.3 362.7,1103.8 364.3,1103.6 365.6,1086.4 367.6,1051.8 368.9,1067.9 370.2,1084.0 371.6,1099.6 372.9,1102.5 374.2,1105.7 375.6,1108.9 376.9,1109.8 378.2,1110.8 379.5,1112.3 380.9,1113.6 382.2,1115.4 383.5,1116.4 384.8,1116.9 386.2,1118.1 387.5,1118.2 388.8,1118.6 390.1,1118.3 391.5,1117.2 392.8,1117.5 394.1,1119.0 395.5,1120.5 396.8,1121.5 398.1,1121.9 399.4,1122.2 400.8,1124.5 402.1,1125.2 403.4,1127.5 404.8,1128.9 406.1,1130.2 407.7,1127.9 409.4,1126.2 411.1,1127.3 412.7,1130.2 414.0,1131.0 415.4,1132.5 416.7,1131.8 418.0,1133.2 419.4,1133.5 420.7,1134.1 423.1,1110.2 424.5,1122.9 426.0,1136.8 427.3,1137.7 428.6,1140.2 430.0,1142.3 431.3,1142.7 432.6,1144.8 433.9,1145.4 435.3,1145.2 436.6,1146.8 437.9,1147.1 439.3,1148.6 440.6,1149.8 441.9,1149.9 443.2,1151.2 444.6,1150.9 445.9,1151.4 447.2,1151.2 448.6,1152.2 449.9,1152.0 451.2,1152.4 452.5,1153.3 453.9,1154.3 455.2,1154.2 456.5,1155.4 457.8,1155.6 459.2,1158.2 460.5,1159.1 461.8,1160.7 463.1,1161.8 464.5,1162.5 465.8,1162.1 467.1,1162.3 468.4,1162.7 469.8,1162.5 471.1,1162.3 476.0,1161.7 477.2,1163.0 478.5,1155.5 479.8,1164.6 481.0,1139.7 482.2,1165.6 483.5,1155.6 484.8,1166.2 486.0,1161.7 487.2,1166.0 488.5,1164.5 489.8,1166.0 491.0,1167.2 492.2,1165.9 493.5,1167.4 494.8,1167.5 496.0,1168.5 497.2,1167.9 498.5,1167.6 499.8,1166.9 501.0,1163.9 502.2,1162.8 503.5,1158.2 504.8,1163.3 506.0,1156.9 507.2,1164.6 508.5,1158.3 509.8,1166.8 511.0,1167.4 512.2,1170.4 513.5,1169.7 514.8,1169.0 516.0,1168.9 517.2,1169.1 518.5,1171.2 519.8,1170.0 521.0,1169.5 522.2,1169.9 523.5,1167.8 524.8,1169.0 526.0,1166.3 527.2,1169.8 528.5,1169.5 529.8,1172.5 531.0,1172.7 532.2,1171.8 533.5,1154.3 534.8,1172.7 536.0,1169.6 537.2,1169.8 538.5,1171.3 539.8,1169.5 541.0,1171.5 542.2,1173.7 543.5,1175.7 544.8,1176.8 546.0,1177.3 547.2,1177.8 548.5,1178.5 549.8,1179.0 551.0,1178.8 552.2,1179.2 553.5,1180.3 554.8,1179.4 556.0,1178.0 557.2,1178.2 558.5,1176.7 559.8,1177.7 561.0,1174.1 562.2,1175.9 563.5,1175.5 564.8,1176.8 566.0,1177.6 567.2,1177.8 568.5,1177.9 569.8,1179.4 571.0,1176.5 572.2,1182.0 573.5,1179.0 574.8,1183.7 576.0,1183.8 577.2,1184.4 578.5,1183.3 579.8,1184.7 581.0,1184.3 582.2,1185.4 583.5,1187.9 584.8,1187.0 586.0,1188.8 587.2,1188.3 588.5,1188.2 589.8,1162.3 591.0,1189.7 592.2,1189.5 593.5,1190.2 594.8,1190.1 596.0,1190.4 597.2,1190.2 598.5,1190.2 599.8,1189.0 601.0,1188.5 602.2,1186.7 603.5,1186.7 604.8,1143.7 606.0,1185.0 607.2,1185.2 608.5,1185.0 609.8,1182.2 611.0,1184.7 612.2,1184.7 613.5,1185.8 614.8,1185.8 616.0,1184.2 617.2,1184.1 618.5,1183.7 619.8,1182.8 621.0,1152.3 622.2,1185.2 623.5,1182.4 624.8,1186.3 626.0,1189.7 627.2,1193.7 628.5,1196.5 629.8,1196.7 631.0,1196.7 632.2,1196.3 633.5,1196.0 634.8,1195.8 636.0,1196.6 637.2,1196.3 638.5,1197.6 639.8,1195.3 641.0,1193.1 642.2,1187.5 643.5,1193.0 644.8,1191.1 646.0,1194.6 647.2,1195.0 648.5,1195.9 649.8,1190.0 651.0,1198.8 652.2,1182.0 653.5,1198.3 654.8,1183.6 656.0,1195.8 657.2,1189.4 658.5,1195.6 659.8,1198.4 661.0,1199.6 662.2,1199.2 663.5,1199.4 664.8,1197.2 666.0,1197.5 667.2,1196.5 668.5,1192.2 669.8,1196.5 671.0,1197.2 672.2,1198.4 673.5,1199.3 674.8,1198.8 676.0,1198.4 677.2,1198.4 678.5,1199.9 679.8,1199.0 681.0,1199.1 682.2,1199.8 683.5,1200.1 684.8,1199.6 686.0,1199.9 687.2,1200.6 688.5,1199.4 689.8,1198.2 691.0,1199.6 692.2,1201.3 693.5,1200.8 694.8,1201.0 696.0,1204.3 697.2,1206.4 698.5,1199.6 699.8,1206.5 701.0,1184.2 702.2,1200.6 703.5,1185.1 704.8,1200.7 706.0,1185.0 707.2,1201.2 708.5,1187.5 709.8,1201.0 711.0,1191.6 712.2,1206.6 713.5,1193.7 714.8,1205.3 716.0,1199.5 717.2,1201.3 718.5,1203.0 719.8,1203.4 721.0,1204.3 722.2,1204.4 723.5,1201.2 724.8,1199.2 726.0,1197.6 727.2,1193.9 728.5,1199.3 729.8,1167.6 731.0,1202.4 732.2,1186.3 733.5,1198.0 734.8,1193.6 736.0,1199.2 737.2,1201.8 738.5,1202.5 739.8,1202.3 741.0,1203.4 742.2,1203.3 743.5,1203.9 744.8,1204.5 746.0,1204.0 747.2,1203.6 748.5,1204.4 749.8,1204.2 751.0,1205.1 752.2,1205.4 753.5,1205.5 754.8,1205.2 756.0,1206.1 757.2,1205.6 758.5,1205.5 759.8,1201.6 761.0,1189.3 762.2,1202.4 763.5,1152.2 764.8,1188.5 766.0,1120.5 767.2,1194.2 768.5,1157.6 769.8,1187.2 771.0,1174.5 772.2,1199.0 773.5,1195.4 774.8,1203.0 776.0,1204.7 777.2,1205.3 778.5,1205.3 779.8,1206.0 781.0,1204.7 782.2,1205.7 783.5,1205.5 784.8,1204.5 786.0,1204.4 787.2,1204.2 788.5,1204.3 789.8,1204.2 791.0,1203.5 792.2,1203.6 793.5,1203.3 794.8,1202.8 796.0,1203.3 797.2,1204.0 798.5,1204.7 799.8,1203.4 801.0,1202.5 802.2,1171.6 803.5,1203.3 804.8,1200.7 806.0,1198.8 807.2,1205.4 808.5,1206.0 809.8,1208.4 811.0,1206.8 812.2,1206.5 813.5,1206.6 814.8,1207.3 816.0,1206.1 817.2,1206.7 818.5,1206.5 819.8,1206.6 821.0,1207.0 822.2,1206.4 823.5,1206.0 824.8,1204.6 826.0,1201.7 827.2,1199.3 828.5,1197.7 829.8,1196.5 831.0,1192.2 832.2,1198.7 833.5,1194.2 834.8,1183.6 836.0,1198.1 837.2,1197.9 838.5,1199.8 839.8,1202.5 841.0,1203.7 842.2,1205.2 843.5,1207.3 844.8,1208.4 846.0,1207.8 847.2,1208.3 848.5,1207.6 849.8,1207.4 851.0,1209.1 852.2,1209.2 853.5,1209.1 854.8,1208.6 856.0,1209.3 857.2,1210.0 858.5,1207.1 859.8,1201.7 861.0,1207.0 862.2,1193.9 863.5,1186.9 864.8,1208.7 866.0,1203.1 867.2,1205.6 868.5,1200.6 869.8,1204.2 871.0,1189.3 872.2,1202.9 873.5,1182.9 874.8,1202.2 876.0,1189.3 877.2,1199.7 878.5,1196.2 879.8,1197.0 881.0,1198.1 882.2,1198.8 883.5,1198.2 884.8,1204.2 886.0,1192.2 887.2,1205.7 888.5,1195.1 889.8,1200.7 891.0,1198.9 892.2,1200.7 893.5,1199.9 894.8,1198.2 896.0,1195.8 897.2,1198.1 898.5,1188.4 899.8,1196.7 901.0,1172.8 902.2,1196.8 903.5,1167.0 904.8,1188.1 906.0,1176.2 907.2,1189.4 908.5,1180.7 909.8,1195.7 911.0,1188.5 912.2,1200.5 913.5,1190.8 914.8,1200.1 916.0,1186.1 917.2,1200.0 918.5,1180.0 919.8,1202.0 921.0,1175.5 922.2,1173.6 923.5,1201.3 924.8,1186.6 926.0,1200.5 927.2,1194.5 928.5,1199.8 929.8,1201.9 931.0,1204.7 932.2,1206.3 933.5,1206.4 934.8,1207.2 936.0,1208.8 937.2,1209.4 938.5,1210.2 939.8,1210.5 941.0,1209.3 942.2,1208.7 943.5,1208.7 944.8,1208.8 946.0,1205.5 947.2,1207.0 948.5,1208.2 949.8,1209.2 951.0,1209.7 952.2,1210.8 953.5,1210.4 954.8,1211.1 956.0,1212.0 957.2,1212.1 958.5,1210.0 959.8,1206.0 961.0,1204.5 962.2,1197.4 963.5,1205.6 964.8,1187.5 966.0,1195.6 967.2,1175.6 968.5,1199.3 969.8,1180.1 971.0,1195.0 972.2,1188.7 973.5,1200.9 974.8,1189.5 976.0,1197.7 977.2,1195.7 978.5,1207.5 979.8,1199.4 981.0,1203.2 982.2,1189.5 983.5,1197.6 984.8,1178.0 986.0,1200.8 987.2,1165.9 988.5,1200.8 989.8,1177.0 991.0,1147.7 992.2,1198.2 993.5,1168.5 994.8,1197.7 996.0,1178.6 997.2,1201.5 998.5,1192.4 999.8,1200.4 1001.0,1205.3 1002.2,1202.6 1003.5,1201.1 1004.8,1196.1 1006.0,1195.9 1007.2,1187.2 1008.5,1201.2 1009.8,1179.6 1011.0,1201.8 1012.2,1181.4 1013.5,1194.8 1014.8,1191.2 1016.0,1198.5 1017.2,1199.9 1018.5,1203.3 1019.8,1206.9 1021.0,1207.9 1022.2,1210.6 1023.5,1212.0 1024.8,1212.3 1026.0,1211.4 1027.2,1210.3 1028.5,1209.4 1029.8,1208.6 1031.0,1207.6 1032.2,1206.3 1033.5,1205.7 1034.8,1204.2 1036.0,1206.1 1037.2,1202.8 1038.5,1204.1 1039.8,1205.3 1041.0,1207.8 1042.2,1207.7 1043.5,1210.7 1044.8,1209.5 1046.0,1211.6 1047.2,1210.5 1048.5,1210.3 1049.8,1209.3 1051.0,1209.0 1052.2,1210.2 1053.5,1208.8 1054.8,1208.9 1056.0,1208.3 1057.2,1207.3 1058.5,1207.4 1059.8,1192.2 1061.0,1198.5 1062.2,1194.6 1063.5,1196.1 1064.8,1196.1 1066.0,1196.8 1067.2,1199.2 1068.5,1199.8 1069.8,1200.2 1071.0,1200.1 1072.2,1200.8 1073.5,1200.5 1074.8,1196.7 1076.0,1193.5 1077.2,1199.5 1078.5,1198.0 1079.8,1200.7 1081.0,1198.7 1082.2,1199.0 1083.5,1199.0 1084.8,1198.3 1086.0,1196.1 1087.2,1178.0 1088.5,1192.6 1089.8,1174.3 1091.0,1142.4 1092.2,1195.1 1093.5,1169.8 1094.8,1165.7 1096.0,1192.3 1097.2,1174.5 1098.5,1187.6 1099.8,1174.1 1101.0,1184.5 1102.2,1172.0 1103.5,1171.0 1104.8,1182.8 1106.0,1180.1 1107.2,1183.8 1108.5,1184.4 1109.8,1185.9 1111.0,1186.7 1112.2,1189.1 1113.5,1191.3 1114.8,1192.5 1116.0,1193.4 1117.2,1191.0 1118.5,1192.6 1119.8,1193.1 1121.0,1188.4 1122.2,1192.4 1123.5,1184.9 1124.8,1191.3 1126.0,1186.1 1127.2,1190.9 1128.5,1183.4 1129.8,1189.0 1131.0,1173.5 1132.2,1189.3 1133.5,1171.0 1134.8,1183.0 1136.0,1180.6 1137.2,1187.4 1138.5,1186.9 1139.8,1196.5 1141.0,1202.2 1142.2,1207.9 1143.5,1210.0 1144.8,1211.0 1146.0,1211.5 1147.2,1211.8 1148.5,1211.9 1149.8,1209.8 1151.0,1210.2 1152.2,1208.8 1153.5,1208.8 1154.8,1207.7 1156.0,1206.9 1157.2,1205.2 1158.5,1203.4 1159.8,1202.0 1161.0,1199.5 1162.2,1199.7 1163.5,1194.0 1164.8,1197.0 1166.0,1193.7 1167.2,1198.2 1168.5,1194.1 1169.8,1199.4 1171.0,1190.3 1172.2,1200.9 1173.5,1183.2 1174.8,1198.2 1176.0,1179.7 1177.2,1190.9 1178.5,1184.3 1179.8,1197.8 1181.0,1179.6 1182.2,1195.2 1183.5,1167.1 1184.8,1184.4 1186.0,1161.7 1187.2,1155.0 1188.5,1188.0 1189.8,1169.5 1191.0,1192.3 1192.2,1189.3 1193.5,1195.7 1194.8,1194.4 1196.0,1197.4 1197.2,1192.9 1198.5,1201.5 1199.8,1188.1 1201.0,1196.3 1202.2,1184.9 1203.5,1196.4 1204.8,1193.9 1206.0,1199.3 1207.2,1195.9 1208.5,1199.3 1209.8,1189.1 1211.0,1198.1 1212.2,1187.0 1213.5,1200.5 1214.8,1184.5 1216.0,1199.0 1217.2,1181.6 1218.5,1201.0 1219.8,1200.2 1221.0,1205.1 1222.2,1205.5 1223.5,1205.9 1224.8,1207.2 1226.0,1207.4 1227.2,1207.9 1228.5,1208.3 1229.8,1207.7 1231.0,1207.5 1232.2,1207.7 1233.5,1207.5 1234.8,1207.3 1236.0,1206.5 1237.2,1205.3 1238.5,1203.8 1239.8,1200.8 1241.0,1200.0 1242.2,1195.9 1243.5,1200.6 1244.8,1191.6 1246.0,1200.9 1247.2,1189.4 1248.5,1193.7 1249.8,1187.2 1251.0,1199.8 1252.2,1190.2 1253.5,1200.0 1254.8,1190.7 1256.0,1200.4 1257.2,1193.3 1258.5,1199.4 1259.8,1194.9 1261.0,1199.5 1262.2,1195.7 1263.5,1197.9 1264.8,1192.1 1266.0,1201.3 1267.2,1187.6 1268.5,1201.2 1269.8,1187.1 1271.0,1203.9 1272.2,1187.0 1273.5,1204.3 1274.8,1194.9 1276.0,1202.5 1277.2,1194.4 1278.5,1202.4 1279.8,1190.8 1281.0,1201.3 1282.2,1192.0 1283.5,1198.4 1284.8,1191.4 1286.0,1198.2 1287.2,1191.2 1288.5,1199.6 1289.8,1194.0 1291.0,1198.9 1292.2,1194.8 1293.5,1197.9 1294.8,1195.5 1296.0,1198.4 1297.2,1197.2 1298.5,1199.0 1299.8,1196.7 1301.0,1198.2 1302.2,1195.4 1303.5,1198.3 1304.8,1193.8 1306.0,1200.8 1307.2,1194.2 1308.5,1200.6 1309.8,1192.3 1311.0,1201.3 1312.2,1192.8 1313.5,1200.1 1314.8,1192.3 1316.0,1200.2 1317.2,1189.5 1318.5,1199.9 1319.8,1192.6 1321.0,1199.0 1322.2,1197.0 1323.5,1197.7 1324.8,1195.7 1326.0,1198.7 1327.2,1193.6 1328.5,1191.5 1329.8,1199.8 1331.0,1199.2 1332.2,1199.9 1333.5,1203.5 1334.8,1206.2 1336.0,1206.3 1337.2,1207.4 1338.5,1206.6 1339.8,1207.7 1341.0,1206.4 1342.2,1205.7 1343.5,1205.3 1344.8,1202.5 1346.0,1202.0 1347.2,1200.9 1348.5,1197.8 1349.8,1198.7 1351.0,1188.4 1352.2,1198.1 1353.5,1190.1 1354.8,1180.9 1356.0,1200.4 1357.2,1185.0 1358.5,1198.5 1359.8,1191.3 1361.0,1197.3 1362.2,1197.2 1363.5,1201.0 1364.8,1202.7 1366.0,1202.9 1367.2,1201.3 1368.5,1202.7 1369.8,1201.6 1371.0,1202.3 1372.2,1201.8 1373.5,1202.3 1374.8,1201.7 1376.0,1203.2 1377.2,1202.2 1378.5,1203.2 1379.8,1203.5 1381.0,1202.7 1382.2,1202.7 1383.5,1202.9 1384.8,1202.9 1386.0,1201.6 1387.2,1202.5 1388.5,1200.2 1389.8,1204.5 1391.0,1205.9 1392.2,1207.4 1393.5,1209.4 1394.8,1211.5 1396.0,1212.9 1397.2,1212.5 1398.5,1211.3 1399.8,1209.5 1401.0,1209.2 1402.2,1209.2 1403.5,1208.9 1404.8,1207.8 1406.0,1206.3 1407.2,1204.9 1408.5,1204.0 1409.8,1203.0 1411.0,1198.0 1412.2,1202.3 1413.5,1182.5 1414.8,1201.0 1416.0,1175.8 1417.2,1173.0 1418.5,1195.2 1419.8,1179.8 1421.0,1195.6 1422.2,1185.9 1423.5,1199.2 1424.8,1182.6 1426.0,1198.8 1427.2,1185.7 1428.5,1197.5 1429.8,1192.9 1431.0,1198.3 1432.2,1194.6 1433.5,1197.7 1434.8,1193.2 1436.0,1197.4 1437.2,1192.5 1438.5,1196.0 1439.8,1194.3 1441.0,1196.7 1442.2,1197.7 1443.5,1199.4 1444.8,1199.7 1446.0,1201.0 1447.2,1203.0 1448.5,1205.9 1449.8,1205.9 1451.0,1198.8 1452.2,1200.1 1453.5,1202.3 1454.8,1202.2 1456.0,1204.3 1457.2,1205.3 1458.5,1206.8 1459.8,1207.7 1461.0,1207.5 1462.2,1208.5 1463.5,1211.0 1464.8,1212.4 1466.0,1213.6 1467.2,1214.9 1468.5,1213.6 1469.8,1211.2 1471.0,1210.0 1472.2,1209.8 1473.5,1207.9 1474.8,1205.5 1476.0,1207.4 1477.2,1207.1 1478.5,1208.8 1479.8,1209.2 1481.0,1208.8 1482.2,1208.7 1483.5,1209.2 1484.8,1209.9 1486.0,1209.2 1487.2,1209.7 1488.5,1210.4 1489.8,1210.1 1491.0,1210.9 1492.2,1210.5 1493.5,1207.5 1494.8,1202.2 1496.0,1193.7 1497.2,1201.2 1498.5,1187.5 1499.8,1180.9 1501.0,1195.7 1502.2,1190.3 1503.5,1196.0 1504.8,1196.6 1506.0,1197.8 1507.2,1200.1 1508.5,1200.6 1509.8,1201.4 1511.0,1201.5 1512.2,1203.4 1513.5,1205.8"/>
<polyline class="curve" stroke="#6666ff" points="266.0,150.0 268.5,300.0 269.7,340.0 270.4,404.0 271.8,468.0 272.9,488.0 273.9,503.0 274.9,530.0 275.9,558.0 276.9,602.0 277.9,666.0 278.9,717.0 279.9,750.0 280.9,775.0 281.9,798.0 282.8,813.0 285.0,815.0 285.9,818.0 286.8,833.0 287.2,840.0 288.5,866.5 290.5,893.1 292.5,919.6 293.8,925.8 295.1,932.0 296.4,939.5 298.0,943.8 299.6,948.4 301.1,954.1 302.6,956.9 304.1,961.4 305.6,966.5 307.1,970.1 308.4,973.5 309.7,976.2 311.1,977.9 312.4,980.7 313.7,983.3 315.0,985.1 316.4,987.0 317.7,988.9 319.0,991.2 320.3,994.7 321.7,996.6 323.0,999.0 324.3,1000.9 325.6,1002.7 327.0,1003.3 328.3,1004.7 329.6,1006.9 331.0,1008.5 332.3,1010.6 333.6,1012.7 334.9,1014.6 336.3,1014.9 337.6,1016.9 338.9,1018.8 340.2,1020.3 341.6,1021.8 342.9,1022.6 344.2,1024.2 345.6,1024.9 346.9,1027.5 348.2,1029.3 349.5,1030.2 350.9,1031.0 352.2,1032.4 353.5,1034.2 354.8,1035.1 356.2,1036.6 357.5,1037.9 358.8,1038.4 360.1,1039.1 346.4,1028.0 347.7,1029.2 349.0,1030.6 350.3,1031.5 351.7,1032.1 353.0,1033.3 354.3,1035.4 355.6,1035.6 357.0,1036.4 358.3,1038.4 359.6,1039.9 361.0,1040.6 362.3,1042.1 363.6,1043.4 364.9,1044.3 366.3,1046.6 367.6,1046.9 368.9,1048.0 370.2,1048.8 371.6,1050.6 372.9,1051.8 374.2,1052.6 375.6,1053.8 376.9,1055.7 378.2,1056.4 379.5,1057.8 380.9,1059.8 382.2,1059.8 383.5,1060.4 384.8,1061.7 386.2,1063.8 387.5,1065.0 388.8,1066.4 390.1,1067.0 391.5,1068.1 392.8,1069.0 394.1,1070.5 395.5,1071.1 396.8,1073.2 398.1,1075.2 399.4,1075.7 400.8,1077.8 402.1,1078.5 403.4,1079.8 404.8,1079.2 406.1,1079.9 407.4,1081.9 408.7,1083.0 410.1,1083.4 411.4,1085.0 412.7,1085.0 414.0,1086.3 415.4,1087.2 416.7,1087.0 418.0,1087.1 419.4,1088.0 420.7,1089.0 422.0,1089.9 423.3,1091.8 424.7,1094.6 426.0,1095.7 427.5,1093.6 429.0,1090.8 430.5,1088.5 432.0,1087.7 433.6,1091.8 435.3,1098.3 436.6,1097.5 437.9,1096.5 439.3,1095.4 440.6,1094.2 441.9,1094.3 443.2,1097.4 444.6,1099.7 445.9,1101.8 447.2,1104.9 448.6,1104.7 449.9,1105.2 451.2,1106.0 452.5,1107.8 453.9,1108.0 455.2,1108.3 456.5,1110.2 457.8,1111.0 459.2,1112.2 460.5,1114.8 461.8,1115.5 463.1,1115.5 464.5,1116.1 465.8,1117.0 467.1,1117.0 468.4,1118.2 469.8,1118.0 471.1,1117.9 477.2,1121.3 478.5,1121.6 479.8,1122.7 481.0,1124.0 482.2,1124.0 483.5,1124.6 484.8,1125.3 486.0,1125.0 487.2,1126.7 488.5,1127.6 489.8,1128.3 491.0,1128.8 492.2,1128.5 493.5,1128.9 494.8,1130.0 496.0,1129.9 497.2,1130.7 498.5,1131.3 499.8,1131.7 501.0,1131.7 502.2,1131.9 503.5,1132.5 504.8,1131.4 506.0,1132.0 507.2,1131.8 508.5,1131.2 509.8,1129.3 511.0,1130.5 512.2,1133.0 513.5,1131.0 514.8,1132.6 516.0,1130.8 517.2,1134.3 518.5,1131.0 519.8,1138.8 521.0,1131.6 522.2,1137.7 523.5,1129.5 524.8,1142.2 526.0,1127.3 527.2,1143.7 528.5,1128.8 529.8,1139.4 531.0,1127.7 532.2,1142.7 533.5,1128.8 534.8,1144.2 536.0,1124.1 537.2,1144.5 538.5,1120.7 539.8,1142.3 541.0,1120.0 542.2,1144.4 543.5,1131.4 544.8,1137.6 546.0,1135.0 547.2,1143.0 548.5,1141.6 549.8,1147.6 551.0,1149.4 552.2,1152.1 553.5,1154.8 554.8,1155.3 556.0,1155.0 557.2,1154.7 558.5,1155.3 559.8,1156.2 561.0,1156.6 562.2,1158.2 563.5,1158.1 564.8,1156.6 566.0,1156.7 567.2,1158.5 568.5,1157.7 569.8,1156.8 571.0,1156.2 572.2,1158.5 573.5,1160.6 574.8,1159.5 576.0,1160.2 577.2,1161.1 578.5,1162.8 579.8,1163.0 581.0,1163.8 582.2,1163.1 583.5,1164.1 584.8,1165.3 586.0,1165.9 587.2,1166.2 588.5,1166.2 589.8,1166.2 591.0,1167.0 592.2,1166.9 593.5,1166.4 594.8,1167.5 596.0,1166.6 597.2,1167.0 598.5,1167.2 599.8,1167.0 601.0,1166.6 602.2,1165.1 603.5,1147.7 604.8,1166.0 606.0,1161.2 607.2,1171.8 608.5,1163.2 609.8,1167.9 611.0,1165.7 612.2,1167.7 613.5,1168.4 614.8,1170.6 616.0,1167.2 617.2,1171.3 618.5,1169.8 619.8,1170.3 621.0,1168.2 622.2,1170.8 623.5,1168.4 624.8,1169.8 626.0,1169.9 627.2,1168.6 628.5,1168.8 629.8,1169.3 631.0,1152.8 632.2,1165.9 633.5,1133.5 634.8,1123.8 636.0,1164.5 637.2,1143.7 638.5,1165.3 639.8,1140.3 641.0,1164.0 642.2,1139.9 643.5,1162.3 644.8,1146.5 646.0,1167.5 647.2,1153.6 648.5,1170.4 649.8,1157.4 651.0,1172.5 652.2,1159.4 653.5,1173.2 654.8,1164.0 656.0,1175.0 657.2,1171.3 658.5,1174.5 659.8,1175.0 661.0,1176.8 662.2,1177.8 663.5,1177.1 664.8,1173.2 666.0,1175.5 667.2,1170.6 668.5,1165.7 669.8,1178.7 671.0,1172.8 672.2,1176.3 673.5,1169.5 674.8,1161.7 676.0,1177.1 677.2,1173.1 678.5,1179.1 679.8,1171.6 681.0,1180.9 682.2,1160.5 683.5,1170.2 684.8,1155.0 686.0,1171.0 687.2,1161.4 688.5,1179.9 689.8,1171.9 691.0,1184.3 692.2,1175.3 693.5,1183.9 694.8,1170.7 696.0,1180.1 697.2,1163.6 698.5,1177.2 699.8,1154.9 701.0,1183.5 702.2,1152.4 703.5,1184.8 704.8,1151.1 706.0,1134.5 707.2,1184.6 708.5,1153.6 709.8,1185.0 711.0,1161.0 712.2,1182.7 713.5,1177.4 714.8,1184.9 716.0,1177.4 717.2,1185.9 718.5,1170.9 719.8,1185.8 721.0,1168.1 722.2,1186.5 723.5,1163.7 724.8,1187.9 726.0,1173.3 727.2,1189.3 728.5,1181.9 729.8,1188.7 731.0,1186.1 732.2,1186.9 733.5,1187.8 734.8,1187.1 736.0,1179.4 737.2,1189.5 738.5,1172.0 739.8,1186.1 741.0,1167.0 742.2,1188.7 743.5,1180.9 744.8,1192.0 746.0,1183.5 747.2,1189.0 748.5,1179.2 749.8,1185.4 751.0,1174.1 752.2,1191.3 753.5,1171.9 754.8,1197.5 756.0,1180.8 757.2,1183.0 758.5,1148.6 759.8,1198.0 761.0,1128.5 762.2,1192.0 763.5,1148.7 764.8,1188.0 766.0,1176.9 767.2,1187.6 768.5,1189.7 769.8,1192.7 771.0,1191.8 772.2,1187.5 773.5,1187.9 774.8,1179.5 776.0,1183.8 777.2,1172.9 778.5,1171.0 779.8,1186.6 781.0,1178.6 782.2,1186.1 783.5,1187.5 784.8,1186.8 786.0,1187.6 787.2,1190.6 788.5,1190.3 789.8,1189.9 791.0,1179.3 792.2,1193.7 793.5,1165.7 794.8,1194.6 796.0,1152.4 797.2,1191.4 798.5,1179.2 799.8,1192.5 801.0,1190.3 802.2,1192.9 803.5,1193.0 804.8,1199.0 806.0,1192.1 807.2,1202.1 808.5,1180.3 809.8,1200.4 811.0,1168.4 812.2,1186.9 813.5,1157.7 814.8,1201.4 816.0,1166.7 817.2,1207.6 818.5,1178.2 819.8,1205.9 821.0,1189.5 822.2,1209.2 823.5,1204.2 824.8,1207.6 826.0,1206.0 827.2,1205.8 828.5,1201.6 829.8,1206.6 831.0,1195.7 832.2,1204.0 833.5,1189.8 834.8,1188.2 836.0,1201.4 837.2,1198.2 838.5,1203.7 839.8,1205.9 841.0,1204.4 842.2,1195.7 843.5,1198.3 844.8,1184.2 846.0,1207.1 847.2,1179.1 848.5,1167.6 849.8,1201.4 851.0,1183.0 852.2,1199.2 853.5,1192.0 854.8,1205.9 856.0,1208.5 857.2,1204.3 858.5,1188.6 859.8,1183.6 861.0,1204.4 862.2,1200.8 863.5,1205.4 864.8,1198.2 866.0,1206.8 867.2,1185.1 868.5,1204.8 869.8,1183.0 871.0,1173.6 872.2,1202.0 873.5,1188.8 874.8,1199.7 876.0,1195.4 877.2,1198.2 878.5,1198.7 879.8,1203.4 881.0,1205.2 882.2,1205.4 883.5,1205.7 884.8,1208.5 886.0,1208.5 887.2,1208.2 888.5,1206.5 889.8,1207.8 891.0,1208.0 892.2,1207.4 893.5,1201.4 894.8,1200.0 896.0,1191.7 897.2,1197.4 898.5,1182.4 899.8,1199.1 901.0,1174.3 902.2,1199.6 903.5,1189.2 904.8,1195.7 906.0,1195.9 907.2,1197.3 908.5,1198.3 909.8,1201.4 911.0,1194.8 912.2,1199.7 913.5,1173.2 914.8,1198.1 916.0,1142.4 917.2,1199.9 918.5,1176.3 919.8,1198.6 921.0,1179.4 922.2,1196.8 923.5,1182.5 924.8,1202.3 926.0,1197.2 927.2,1206.3 928.5,1197.3 929.8,1206.3 931.0,1193.0 932.2,1201.3 933.5,1191.3 934.8,1200.3 936.0,1182.9 937.2,1208.8 938.5,1198.2 939.8,1207.5 941.0,1206.3 942.2,1207.2 943.5,1207.0 944.8,1208.4 946.0,1208.7 947.2,1206.4 948.5,1202.9 949.8,1199.2 951.0,1197.4 952.2,1190.7 953.5,1199.5 954.8,1174.3 956.0,1197.4 957.2,1188.8 958.5,1202.5 959.8,1198.3 961.0,1207.8 962.2,1210.7 963.5,1212.3 964.8,1212.3 966.0,1211.7 967.2,1212.7 968.5,1210.8 969.8,1211.8 971.0,1209.9 972.2,1209.0 973.5,1206.9 974.8,1206.7 976.0,1205.5 977.2,1210.0 978.5,1211.7 979.8,1213.0 981.0,1213.5 982.2,1213.4 983.5,1212.7 984.8,1214.2 986.0,1201.4 987.2,1193.5 988.5,1175.6 989.8,1170.3 991.0,1207.2 992.2,1183.3 993.5,1202.0 994.8,1192.3 996.0,1204.3 997.2,1191.4 998.5,1195.3 999.8,1172.5 1001.0,1202.3 1002.2,1149.1 1003.5,1205.3 1004.8,1184.3 1006.0,1207.1 1007.2,1193.5 1008.5,1201.1 1009.8,1195.3 1011.0,1202.1 1012.2,1197.0 1013.5,1211.0 1014.8,1199.6 1016.0,1210.7 1017.2,1193.5 1018.5,1213.4 1019.8,1191.0 1021.0,1204.1 1022.2,1177.6 1023.5,1203.4 1024.8,1188.8 1026.0,1206.3 1027.2,1196.9 1028.5,1205.5 1029.8,1202.9 1031.0,1207.7 1032.2,1208.1 1033.5,1208.9 1034.8,1205.0 1036.0,1204.8 1037.2,1202.4 1038.5,1203.2 1039.8,1193.9 1041.0,1203.7 1042.2,1187.1 1043.5,1186.9 1044.8,1203.8 1046.0,1198.5 1047.2,1202.6 1048.5,1207.4 1049.8,1207.7 1051.0,1207.2 1052.2,1208.8 1053.5,1208.3 1054.8,1208.0 1056.0,1207.3 1057.2,1207.1 1058.5,1206.6 1059.8,1192.2 1061.0,1215.7 1062.2,1202.6 1063.5,1214.2 1064.8,1200.0 1066.0,1209.2 1067.2,1194.0 1068.5,1206.8 1069.8,1187.1 1071.0,1182.2 1072.2,1202.1 1073.5,1189.4 1074.8,1199.6 1076.0,1193.9 1077.2,1199.6 1078.5,1196.3 1079.8,1201.9 1081.0,1197.1 1082.2,1206.3 1083.5,1195.7 1084.8,1206.1 1086.0,1190.5 1087.2,1208.5 1088.5,1190.3 1089.8,1201.2 1091.0,1193.6 1092.2,1207.8 1093.5,1192.2 1094.8,1206.1 1096.0,1193.6 1097.2,1203.2 1098.5,1179.6 1099.8,1203.6 1101.0,1191.7 1102.2,1205.5 1103.5,1200.2 1104.8,1207.5 1106.0,1208.5 1107.2,1210.5 1108.5,1213.5 1109.8,1211.8 1111.0,1209.5 1112.2,1210.0 1113.5,1210.1 1114.8,1208.8 1116.0,1206.1 1117.2,1207.4 1118.5,1202.8 1119.8,1207.2 1121.0,1200.1 1122.2,1207.6 1123.5,1196.0 1124.8,1205.9 1126.0,1193.8 1127.2,1207.2 1128.5,1191.3 1129.8,1206.4 1131.0,1192.2 1132.2,1203.4 1133.5,1192.5 1134.8,1205.0 1136.0,1199.1 1137.2,1205.7 1138.5,1205.1 1139.8,1207.8 1141.0,1210.2 1142.2,1209.1 1143.5,1192.6 1144.8,1209.3 1146.0,1174.2 1147.2,1202.8 1148.5,1169.9 1149.8,1196.4 1151.0,1130.5 1152.2,1207.1 1153.5,1170.7 1154.8,1199.8 1156.0,1189.5 1157.2,1209.8 1158.5,1208.9 1159.8,1210.1 1161.0,1210.2 1162.2,1214.5 1163.5,1213.6 1164.8,1209.2 1166.0,1201.0 1167.2,1202.0 1168.5,1184.4 1169.8,1200.4 1171.0,1186.2 1172.2,1198.1 1173.5,1194.7 1174.8,1200.5 1176.0,1196.6 1177.2,1204.8 1178.5,1198.2 1179.8,1206.9 1181.0,1193.6 1182.2,1208.0 1183.5,1189.4 1184.8,1189.5 1186.0,1212.6 1187.2,1193.5 1188.5,1212.9 1189.8,1198.6 1191.0,1214.1 1192.2,1205.2 1193.5,1213.4 1194.8,1211.4 1196.0,1206.8 1197.2,1203.1 1198.5,1200.9 1199.8,1195.4 1201.0,1190.9 1202.2,1202.0 1203.5,1198.2 1204.8,1206.5 1206.0,1198.1 1207.2,1208.7 1208.5,1194.1 1209.8,1208.1 1211.0,1199.3 1212.2,1208.0 1213.5,1186.2 1214.8,1200.5 1216.0,1181.5 1217.2,1203.6 1218.5,1182.6 1219.8,1202.1 1221.0,1171.6 1222.2,1195.4 1223.5,1186.3 1224.8,1203.7 1226.0,1195.2 1227.2,1205.2 1228.5,1202.7 1229.8,1208.4 1231.0,1205.0 1232.2,1212.4 1233.5,1203.1 1234.8,1212.3 1236.0,1207.4 1237.2,1212.4 1238.5,1209.5 1239.8,1211.9 1241.0,1210.6 1242.2,1210.0 1243.5,1211.3 1244.8,1211.3 1246.0,1211.4 1247.2,1212.5 1248.5,1212.3 1249.8,1212.7 1251.0,1211.8 1252.2,1209.8 1253.5,1209.0 1254.8,1211.3 1256.0,1205.0 1257.2,1215.0 1258.5,1209.9 1259.8,1213.9 1261.0,1212.3 1262.2,1214.3 1263.5,1213.3 1264.8,1209.8 1266.0,1208.8 1267.2,1200.0 1268.5,1208.2 1269.8,1186.0 1271.0,1208.7 1272.2,1177.2 1273.5,1174.9 1274.8,1209.1 1276.0,1183.3 1277.2,1204.9 1278.5,1190.7 1279.8,1203.4 1281.0,1187.4 1282.2,1206.2 1283.5,1182.9 1284.8,1209.4 1286.0,1186.1 1287.2,1201.6 1288.5,1190.1 1289.8,1206.9 1291.0,1202.8 1292.2,1205.1 1293.5,1207.0 1294.8,1208.3 1296.0,1210.2 1297.2,1211.7 1298.5,1213.1 1299.8,1214.6 1301.0,1216.4 1302.2,1217.6 1303.5,1218.9 1304.8,1219.6 1306.0,1219.2 1307.2,1219.4 1308.5,1216.6 1309.8,1196.9 1311.0,1200.5 1312.2,1163.0 1313.5,1200.2 1314.8,1185.2 1316.0,1193.2 1317.2,1189.7 1318.5,1196.3 1319.8,1198.6 1321.0,1201.9 1322.2,1200.6 1323.5,1201.0 1324.8,1202.9 1326.0,1205.2 1327.2,1202.9 1328.5,1204.2 1329.8,1203.9 1331.0,1207.2 1332.2,1197.0 1333.5,1208.0 1334.8,1190.7 1336.0,1205.0 1337.2,1188.6 1338.5,1205.2 1339.8,1186.8 1341.0,1205.4 1342.2,1190.4 1343.5,1208.6 1344.8,1182.9 1346.0,1209.0 1347.2,1193.2 1348.5,1203.5 1349.8,1192.8 1351.0,1202.4 1352.2,1194.1 1353.5,1203.6 1354.8,1197.8 1356.0,1202.1 1357.2,1199.7 1358.5,1203.2 1359.8,1195.5 1361.0,1200.8 1362.2,1194.1 1363.5,1199.5 1364.8,1190.0 1366.0,1201.9 1367.2,1189.0 1368.5,1200.3 1369.8,1186.9 1371.0,1202.6 1372.2,1180.5 1373.5,1176.9 1374.8,1199.7 1376.0,1181.2 1377.2,1194.8 1378.5,1191.6 1379.8,1202.0 1381.0,1197.3 1382.2,1200.7 1383.5,1198.8 1384.8,1200.5 1386.0,1201.4 1387.2,1203.5 1388.5,1203.7 1389.8,1204.5 1391.0,1207.1 1392.2,1209.6 1393.5,1213.0 1394.8,1215.9 1396.0,1218.8 1397.2,1218.4 1398.5,1218.0 1399.8,1218.1 1401.0,1218.3 1402.2,1212.1 1403.5,1206.7 1404.8,1188.6 1406.0,1189.3 1407.2,1186.8 1408.5,1167.6 1409.8,1191.7 1411.0,1194.5 1412.2,1200.0 1413.5,1199.3 1414.8,1203.7 1416.0,1206.2 1417.2,1204.0 1418.5,1199.7 1419.8,1206.9 1421.0,1190.9 1422.2,1205.6 1423.5,1195.2 1424.8,1208.0 1426.0,1198.1 1427.2,1206.8 1428.5,1193.5 1429.8,1207.4 1431.0,1193.9 1432.2,1210.1 1433.5,1187.9 1434.8,1180.9 1436.0,1203.8 1437.2,1194.1 1438.5,1205.9 1439.8,1199.8 1441.0,1208.0 1442.2,1197.2 1443.5,1208.4 1444.8,1198.6 1446.0,1208.8 1447.2,1202.0 1448.5,1208.3 1449.8,1199.3 1451.0,1206.2 1452.2,1199.4 1453.5,1207.4 1454.8,1198.8 1456.0,1196.2 1457.2,1206.9 1458.5,1201.4 1459.8,1204.4 1461.0,1202.8 1462.2,1205.7 1463.5,1206.7 1464.8,1209.6 1466.0,1211.3 1467.2,1212.9 1468.5,1203.5 1469.8,1206.2 1471.0,1171.8 1472.2,1191.7 1473.5,1159.0 1474.8,1205.1 1476.0,1185.1 1477.2,1207.8 1478.5,1193.0 1479.8,1208.8 1481.0,1194.6 1482.2,1210.2 1483.5,1186.0 1484.8,1208.2 1486.0,1188.7 1487.2,1204.6 1488.5,1187.8 1489.8,1200.0 1491.0,1189.5 1492.2,1200.6 1493.5,1191.3 1494.8,1210.6 1496.0,1193.0 1497.2,1207.5 1498.5,1196.9 1499.8,1206.9 1501.0,1195.9 1502.2,1207.6 1503.5,1197.1 1504.8,1207.2 1506.0,1200.6 1507.2,1206.0 1508.5,1204.6 1509.8,1206.2 1511.0,1205.8 1512.2,1205.7 1513.5,1207.7"/>
<polyline class="curve" stroke="#ff0000" points="265.5,189.0 266.5,63.8 267.0,241.0 268.0,320.0 269.0,420.0 269.5,465.0 270.4,505.0 271.5,577.0 272.4,685.0 273.4,783.0 274.4,840.0 275.5,873.2 277.2,899.7 281.2,922.3 286.5,946.2 288.0,949.6 289.4,953.1 290.9,956.5 292.3,960.1 293.8,962.1 295.1,966.7 296.4,970.6 297.8,972.7 299.1,976.7 300.4,978.6 301.8,981.6 303.1,983.6 304.4,986.2 305.7,987.3 307.3,990.2 308.8,993.3 310.4,996.6 311.9,997.0 313.5,998.2 315.0,999.3 316.4,1002.4 317.7,1004.6 319.0,1008.5 320.6,1010.3 322.1,1013.1 323.7,1016.5 325.2,1019.1 326.8,1021.6 328.3,1023.1 329.6,1024.7 331.0,1027.2 332.3,1028.2 333.6,1030.6 334.9,1032.4 336.3,1033.1 337.6,1033.9 338.9,1036.5 340.2,1037.3 341.6,1039.1 333.1,1030.6 334.4,1031.5 335.7,1034.3 337.1,1036.3 338.4,1037.0 339.7,1038.6 341.1,1042.1 342.4,1044.3 343.7,1046.5 345.0,1046.6 346.4,1045.4 347.7,1045.2 349.0,1051.8 350.3,1057.2 352.3,1065.1 354.3,1051.8 356.3,1045.9 357.9,1063.8 359.6,1069.1 361.6,1058.5 363.6,1051.8 364.9,1070.4 366.3,1059.8 367.6,1075.7 369.2,1065.1 370.9,1081.0 372.9,1074.4 374.9,1086.4 376.9,1082.4 378.9,1091.7 380.4,1093.6 382.0,1095.5 383.5,1095.7 384.8,1098.2 386.2,1098.5 387.5,1099.5 388.8,1100.3 390.1,1101.3 391.5,1102.4 392.8,1104.9 394.1,1105.4 395.5,1107.4 396.8,1107.9 398.1,1110.1 399.4,1111.6 400.8,1111.6 402.1,1111.7 403.4,1112.9 404.8,1112.9 406.1,1114.1 407.4,1114.8 408.7,1115.9 410.1,1117.4 411.4,1118.2 412.7,1113.9 414.0,1111.5 415.4,1106.7 416.7,1103.6 418.0,1109.8 419.4,1115.5 420.7,1118.6 422.0,1119.7 423.3,1122.8 424.7,1124.8 426.2,1119.9 427.8,1115.2 429.3,1110.2 431.0,1119.3 432.6,1130.2 433.9,1128.6 435.3,1128.4 436.6,1129.5 437.9,1128.8 439.3,1130.8 440.6,1133.8 441.9,1136.7 443.2,1138.1 444.6,1138.4 445.9,1136.6 447.2,1135.5 448.6,1137.6 449.9,1140.1 451.2,1142.9 452.5,1144.8 453.9,1144.6 455.2,1145.6 456.5,1146.4 457.8,1146.1 459.4,1143.9 460.9,1139.5 462.5,1136.8 464.5,1045.9 466.5,1136.8 468.0,1139.2 469.6,1139.9 471.1,1142.1 477.2,1148.7 478.5,1150.1 479.8,1149.6 481.0,1149.6 482.2,1152.0 483.5,1151.7 484.8,1152.5 486.0,1153.1 487.2,1153.7 488.5,1155.7 489.8,1155.8 491.0,1157.1 492.2,1158.8 493.5,1157.7 494.8,1157.6 496.0,1156.7 497.2,1157.0 498.5,1156.7 499.8,1154.3 501.0,1154.4 502.2,1149.5 503.5,1152.3 504.8,1069.4 506.0,1150.9 507.2,1142.1 508.5,1149.2 509.8,1144.4 511.0,1151.8 512.2,1150.0 513.5,1154.7 514.8,1152.7 516.0,1155.4 517.2,1152.9 518.5,1160.5 519.8,1152.6 521.0,1162.9 522.2,1151.7 523.5,1163.4 524.8,1153.4 526.0,1163.4 527.2,1151.6 528.5,1162.3 529.8,1151.6 531.0,1165.0 532.2,1155.9 533.5,1164.7 534.8,1155.7 536.0,1160.7 537.2,1149.8 538.5,1147.7 539.8,1167.9 541.0,1150.4 542.2,1169.0 543.5,1154.9 544.8,1170.6 546.0,1157.8 547.2,1173.8 548.5,1157.0 549.8,1172.7 551.0,1157.3 552.2,1168.4 553.5,1151.7 554.8,1165.3 556.0,1147.6 557.2,1139.7 558.5,1170.4 559.8,1143.2 561.0,1169.9 562.2,1146.9 563.5,1161.4 564.8,1151.7 566.0,1160.6 567.2,1148.8 568.5,1170.7 569.8,1146.4 571.0,1169.9 572.2,1143.7 573.5,1168.4 574.8,1150.2 576.0,1170.8 577.2,1157.3 578.5,1172.4 579.8,1159.5 581.0,1174.1 582.2,1163.1 583.5,1176.0 584.8,1171.2 586.0,1175.2 587.2,1166.3 588.5,1176.6 589.8,1168.7 591.0,1176.3 592.2,1163.7 593.5,1178.6 594.8,1164.4 596.0,1180.0 597.2,1162.0 598.5,1176.2 599.8,1159.0 601.0,1186.6 602.2,1169.2 603.5,1186.1 604.8,1165.4 606.0,1180.1 607.2,1153.3 608.5,1174.9 609.8,1123.8 611.0,1181.1 612.2,1158.9 613.5,1181.5 614.8,1170.5 616.0,1180.3 617.2,1176.5 618.5,1181.2 619.8,1183.9 621.0,1185.8 622.2,1186.1 623.5,1187.1 624.8,1187.3 626.0,1189.9 627.2,1190.8 628.5,1191.1 629.8,1191.0 631.0,1190.0 632.2,1189.9 633.5,1187.5 634.8,1172.9 636.0,1188.8 637.2,1160.0 638.5,1174.1 639.8,1100.6 641.0,1182.1 642.2,1151.1 643.5,1142.4 644.8,1183.8 646.0,1176.1 647.2,1186.0 648.5,1186.9 649.8,1190.2 651.0,1190.5 652.2,1191.0 653.5,1193.3 654.8,1192.2 656.0,1192.4 657.2,1194.4 658.5,1193.6 659.8,1194.6 661.0,1179.1 662.2,1194.9 663.5,1169.5 664.8,1136.4 666.0,1189.0 667.2,1163.9 668.5,1186.7 669.8,1176.3 671.0,1190.8 672.2,1175.4 673.5,1198.9 674.8,1180.5 676.0,1198.6 677.2,1181.0 678.5,1199.0 679.8,1181.3 681.0,1195.2 682.2,1180.0 683.5,1188.5 684.8,1158.5 686.0,1196.1 687.2,1152.1 688.5,1197.8 689.8,1162.8 691.0,1127.8 692.2,1196.2 693.5,1151.8 694.8,1198.2 696.0,1171.6 697.2,1204.2 698.5,1189.2 699.8,1204.8 701.0,1191.2 702.2,1205.0 703.5,1205.4 704.8,1206.7 706.0,1199.6 707.2,1203.7 708.5,1203.5 709.8,1203.4 711.0,1195.5 712.2,1202.0 713.5,1182.3 714.8,1188.1 716.0,1124.5 717.2,1186.7 718.5,1182.2 719.8,1192.7 721.0,1188.2 722.2,1197.6 723.5,1192.0 724.8,1205.3 726.0,1194.6 727.2,1204.7 728.5,1193.8 729.8,1204.0 731.0,1193.4 732.2,1194.5 733.5,1186.7 734.8,1193.8 736.0,1184.2 737.2,1201.4 738.5,1181.2 739.8,1200.1 741.0,1185.3 742.2,1205.4 743.5,1172.3 744.8,1206.1 746.0,1181.8 747.2,1198.5 748.5,1181.8 749.8,1196.7 751.0,1179.9 752.2,1199.1 753.5,1176.5 754.8,1175.6 756.0,1196.9 757.2,1178.7 758.5,1199.5 759.8,1180.0 761.0,1197.2 762.2,1175.6 763.5,1195.5 764.8,1186.7 766.0,1205.6 767.2,1194.7 768.5,1209.7 769.8,1196.3 771.0,1210.0 772.2,1184.8 773.5,1207.5 774.8,1175.6 776.0,1206.0 777.2,1180.5 778.5,1198.5 779.8,1189.7 781.0,1200.7 782.2,1188.2 783.5,1200.2 784.8,1186.5 786.0,1185.6 787.2,1205.7 788.5,1194.1 789.8,1207.4 791.0,1193.4 792.2,1206.3 793.5,1198.5 794.8,1209.5 796.0,1198.3 797.2,1205.2 798.5,1188.6 799.8,1204.2 801.0,1178.0 802.2,1208.3 803.5,1174.0 804.8,1174.9 806.0,1204.3 807.2,1179.5 808.5,1204.9 809.8,1183.9 811.0,1207.9 812.2,1179.7 813.5,1206.9 814.8,1176.0 816.0,1199.4 817.2,1169.8 818.5,1201.3 819.8,1159.7 821.0,1197.3 822.2,1183.0 823.5,1199.2 824.8,1188.8 826.0,1201.5 827.2,1189.8 828.5,1206.5 829.8,1190.0 831.0,1209.8 832.2,1194.2 833.5,1212.9 834.8,1199.2 836.0,1214.2 837.2,1187.2 838.5,1210.2 839.8,1172.3 841.0,1207.9 842.2,1184.8 843.5,1200.5 844.8,1190.5 846.0,1200.3 847.2,1193.4 848.5,1204.5 849.8,1188.1 851.0,1205.4 852.2,1185.8 853.5,1204.1 854.8,1185.0 856.0,1202.2 857.2,1188.7 858.5,1199.0 859.8,1189.1 861.0,1205.0 862.2,1189.8 863.5,1200.0 864.8,1192.7 866.0,1213.8 867.2,1191.6 868.5,1213.7 869.8,1200.4 871.0,1215.0 872.2,1196.1 873.5,1208.3 874.8,1201.0 876.0,1196.8 877.2,1210.8 878.5,1197.4 879.8,1210.6 881.0,1199.2 882.2,1210.1 883.5,1193.8 884.8,1205.0 886.0,1172.4 887.2,1163.7 888.5,1201.6 889.8,1175.7 891.0,1203.5 892.2,1184.8 893.5,1208.4 894.8,1200.8 896.0,1208.3 897.2,1203.5 898.5,1209.1 899.8,1201.6 901.0,1210.4 902.2,1207.8 903.5,1213.9 904.8,1207.5 906.0,1214.1 907.2,1205.8 908.5,1214.2 909.8,1205.3 911.0,1215.8 912.2,1205.1 913.5,1215.8 914.8,1204.0 916.0,1215.2 917.2,1202.1 918.5,1213.3 919.8,1205.2 921.0,1214.6 922.2,1205.6 923.5,1212.4 924.8,1197.9 926.0,1209.7 927.2,1195.8 928.5,1205.7 929.8,1178.7 931.0,1201.9 932.2,1163.5 933.5,1196.6 934.8,1153.0 936.0,1199.3 937.2,1160.3 938.5,1206.9 939.8,1170.3 941.0,1198.3 942.2,1187.3 943.5,1210.1 944.8,1191.7 946.0,1212.4 947.2,1185.3 948.5,1210.9 949.8,1189.0 951.0,1204.7 952.2,1194.3 953.5,1205.7 954.8,1196.9 956.0,1211.4 957.2,1194.2 958.5,1206.3 959.8,1181.4 961.0,1205.7 962.2,1159.7 963.5,1207.1 964.8,1182.9 966.0,1207.6 967.2,1185.6 968.5,1209.6 969.8,1192.5 971.0,1207.7 972.2,1190.6 973.5,1200.0 974.8,1186.9 976.0,1201.4 977.2,1197.4 978.5,1204.5 979.8,1200.2 981.0,1206.0 982.2,1201.7 983.5,1207.3 984.8,1207.5 986.0,1208.8 987.2,1210.4 988.5,1210.3 989.8,1209.5 991.0,1210.7 992.2,1212.3 993.5,1215.5 994.8,1211.0 996.0,1211.0 997.2,1211.6 998.5,1211.9 999.8,1204.8 1001.0,1210.9 1002.2,1184.4 1003.5,1196.1 1004.8,1165.0 1006.0,1208.5 1007.2,1182.0 1008.5,1201.3 1009.8,1190.0 1011.0,1208.0 1012.2,1193.1 1013.5,1188.9 1014.8,1210.8 1016.0,1188.6 1017.2,1209.5 1018.5,1191.8 1019.8,1210.8 1021.0,1198.1 1022.2,1213.0 1023.5,1187.9 1024.8,1211.4 1026.0,1186.8 1027.2,1200.9 1028.5,1185.0 1029.8,1203.3 1031.0,1174.1 1032.2,1197.5 1033.5,1167.1 1034.8,1151.0 1036.0,1196.4 1037.2,1168.9 1038.5,1207.0 1039.8,1172.3 1041.0,1211.5 1042.2,1188.5 1043.5,1214.8 1044.8,1191.7 1046.0,1209.4 1047.2,1183.5 1048.5,1208.8 1049.8,1169.6 1051.0,1210.0 1052.2,1189.6 1053.5,1209.3 1054.8,1188.0 1056.0,1203.3 1057.2,1192.3 1058.5,1208.5 1059.8,1192.3 1061.0,1209.2 1062.2,1195.3 1063.5,1209.5 1064.8,1195.4 1066.0,1209.6 1067.2,1199.4 1068.5,1209.5 1069.8,1198.3 1071.0,1210.7 1072.2,1200.0 1073.5,1212.0 1074.8,1202.3 1076.0,1212.8 1077.2,1206.4 1078.5,1213.4 1079.8,1207.3 1081.0,1212.6 1082.2,1207.2 1083.5,1211.1 1084.8,1209.2 1086.0,1212.2 1087.2,1211.0 1088.5,1213.8 1089.8,1212.1 1091.0,1214.2 1092.2,1209.2 1093.5,1209.6 1094.8,1208.2 1096.0,1207.4 1097.2,1200.1 1098.5,1203.3 1099.8,1189.2 1101.0,1207.4 1102.2,1186.2 1103.5,1205.0 1104.8,1183.2 1106.0,1200.0 1107.2,1182.1 1108.5,1181.6 1109.8,1201.0 1111.0,1180.7 1112.2,1208.5 1113.5,1182.5 1114.8,1210.0 1116.0,1185.4 1117.2,1210.4 1118.5,1191.2 1119.8,1206.7 1121.0,1190.8 1122.2,1212.8 1123.5,1197.1 1124.8,1207.1 1126.0,1199.7 1127.2,1213.9 1128.5,1206.4 1129.8,1212.9 1131.0,1212.6 1132.2,1211.3 1133.5,1204.8 1134.8,1208.7 1136.0,1194.5 1137.2,1209.3 1138.5,1179.6 1139.8,1208.8 1141.0,1181.2 1142.2,1202.7 1143.5,1191.9 1144.8,1203.7 1146.0,1194.3 1147.2,1209.5 1148.5,1190.5 1149.8,1211.0 1151.0,1195.9 1152.2,1210.6 1153.5,1190.1 1154.8,1209.7 1156.0,1189.9 1157.2,1209.5 1158.5,1192.1 1159.8,1206.5 1161.0,1197.5 1162.2,1211.1 1163.5,1200.7 1164.8,1214.2 1166.0,1200.8 1167.2,1216.1 1168.5,1202.2 1169.8,1214.9 1171.0,1202.9 1172.2,1214.0 1173.5,1200.8 1174.8,1213.3 1176.0,1203.3 1177.2,1214.5 1178.5,1206.9 1179.8,1212.2 1181.0,1209.7 1182.2,1209.2 1183.5,1210.3 1184.8,1209.3 1186.0,1201.2 1187.2,1202.4 1188.5,1182.0 1189.8,1204.0 1191.0,1172.4 1192.2,1203.7 1193.5,1169.0 1194.8,1203.5 1196.0,1192.1 1197.2,1208.3 1198.5,1199.9 1199.8,1210.6 1201.0,1205.3 1202.2,1211.5 1203.5,1209.4 1204.8,1214.0 1206.0,1208.5 1207.2,1216.2 1208.5,1209.8 1209.8,1214.5 1211.0,1210.5 1212.2,1214.5 1213.5,1213.2 1214.8,1213.5 1216.0,1211.6 1217.2,1212.3 1218.5,1210.7 1219.8,1209.6 1221.0,1207.8 1222.2,1207.8 1223.5,1191.9 1224.8,1203.9 1226.0,1165.3 1227.2,1190.8 1228.5,1139.1 1229.8,1202.2 1231.0,1163.7 1232.2,1198.8 1233.5,1172.4 1234.8,1205.8 1236.0,1185.3 1237.2,1202.0 1238.5,1184.8 1239.8,1210.0 1241.0,1180.2 1242.2,1211.4 1243.5,1187.2 1244.8,1212.4 1246.0,1192.9 1247.2,1211.9 1248.5,1195.0 1249.8,1212.3 1251.0,1195.0 1252.2,1213.0 1253.5,1191.2 1254.8,1207.5 1256.0,1191.4 1257.2,1212.6 1258.5,1191.9 1259.8,1211.3 1261.0,1192.3 1262.2,1211.4 1263.5,1190.8 1264.8,1208.6 1266.0,1200.6 1267.2,1213.2 1268.5,1208.4 1269.8,1213.6 1271.0,1215.5 1272.2,1213.9 1273.5,1213.4 1274.8,1215.4 1276.0,1214.7 1277.2,1216.2 1278.5,1215.8 1279.8,1217.3 1281.0,1215.8 1282.2,1216.0 1283.5,1216.7 1284.8,1215.5 1286.0,1212.7 1287.2,1218.3 1288.5,1207.6 1289.8,1218.6 1291.0,1203.4 1292.2,1213.2 1293.5,1201.8 1294.8,1217.0 1296.0,1202.7 1297.2,1216.2 1298.5,1201.1 1299.8,1215.6 1301.0,1199.7 1302.2,1215.5 1303.5,1197.9 1304.8,1216.3 1306.0,1198.4 1307.2,1209.6 1308.5,1198.4 1309.8,1209.7 1311.0,1197.4 1312.2,1212.8 1313.5,1202.6 1314.8,1212.1 1316.0,1201.3 1317.2,1212.4 1318.5,1196.2 1319.8,1215.0 1321.0,1201.8 1322.2,1216.5 1323.5,1207.1 1324.8,1219.5 1326.0,1209.1 1327.2,1218.6 1328.5,1205.9 1329.8,1217.9 1331.0,1207.9 1332.2,1217.2 1333.5,1211.8 1334.8,1216.0 1336.0,1214.2 1337.2,1214.8 1338.5,1212.8 1339.8,1216.2 1341.0,1209.9 1342.2,1218.7 1343.5,1206.8 1344.8,1208.1 1346.0,1219.3 1347.2,1210.9 1348.5,1218.2 1349.8,1214.3 1351.0,1218.3 1352.2,1207.5 1353.5,1218.3 1354.8,1206.8 1356.0,1212.0 1357.2,1207.8 1358.5,1213.3 1359.8,1209.8 1361.0,1211.5 1362.2,1209.4 1363.5,1210.8 1364.8,1207.8 1366.0,1213.0 1367.2,1206.9 1368.5,1215.1 1369.8,1204.0 1371.0,1216.1 1372.2,1199.8 1373.5,1200.2 1374.8,1215.4 1376.0,1205.0 1377.2,1213.7 1378.5,1210.9 1379.8,1215.0 1381.0,1211.5 1382.2,1213.1 1383.5,1210.9 1384.8,1213.6 1386.0,1213.3 1387.2,1216.8 1388.5,1210.8 1389.8,1218.1 1391.0,1209.5 1392.2,1212.1 1393.5,1205.1 1394.8,1212.0 1396.0,1199.2 1397.2,1214.0 1398.5,1198.9 1399.8,1214.5 1401.0,1199.4 1402.2,1213.3 1403.5,1190.3 1404.8,1188.2 1406.0,1208.4 1407.2,1198.5 1408.5,1211.1 1409.8,1209.3 1411.0,1213.7 1412.2,1211.2 1413.5,1213.7 1414.8,1212.8 1416.0,1213.9 1417.2,1213.3 1418.5,1215.8 1419.8,1212.6 1421.0,1213.7 1422.2,1210.3 1423.5,1214.3 1424.8,1206.8 1426.0,1213.8 1427.2,1210.8 1428.5,1214.0 1429.8,1212.6 1431.0,1214.9 1432.2,1213.5 1433.5,1215.1 1434.8,1210.0 1436.0,1214.5 1437.2,1205.5 1438.5,1214.1 1439.8,1207.2 1441.0,1217.1 1442.2,1208.8 1443.5,1214.5 1444.8,1210.8 1446.0,1215.7 1447.2,1211.3 1448.5,1216.2 1449.8,1214.5 1451.0,1218.1 1452.2,1206.6 1453.5,1213.8 1454.8,1205.5 1456.0,1213.6 1457.2,1212.1 1458.5,1212.9 1459.8,1213.0 1461.0,1213.1 1462.2,1207.7 1463.5,1214.6 1464.8,1198.3 1466.0,1214.6 1467.2,1195.0 1468.5,1210.0 1469.8,1194.2 1471.0,1214.4 1472.2,1199.1 1473.5,1209.9 1474.8,1208.2 1476.0,1213.0 1477.2,1210.8 1478.5,1216.0 1479.8,1215.8 1481.0,1215.0 1482.2,1213.2 1483.5,1213.5 1484.8,1215.5 1486.0,1216.1 1487.2,1216.8 1488.5,1217.6 1489.8,1217.9 1491.0,1216.5 1492.2,1214.0 1493.5,1216.7 1494.8,1201.5 1496.0,1215.4 1497.2,1196.6 1498.5,1197.5 1499.8,1213.9 1501.0,1208.9 1502.2,1215.2 1503.5,1213.9 1504.8,1216.2 1506.0,1214.6 1507.2,1215.0 1508.5,1212.9 1509.8,1215.9 1511.0,1211.2 1512.2,1216.5 1513.5,1211.8"/>
</g>
<g id="ticklabels">
<text class="tick" transform="translate(213.7,66.0) scale(1,1.04)" text-anchor="end">0.1</text>
<text class="tick" transform="translate(215.0,315.3) scale(1,1.04)" text-anchor="end">0.08</text>
<text class="tick" transform="translate(215.0,564.6) scale(1,1.04)" text-anchor="end">0.06</text>
<text class="tick" transform="translate(215.0,814.0) scale(1,1.04)" text-anchor="end">0.04</text>
<text class="tick" transform="translate(215.1,1061.7) scale(1,1.04)" text-anchor="end">0.02</text>
<text class="tick" transform="translate(210.6,1310.8) scale(1,1.04)" text-anchor="end">0</text>
<text class="tick" transform="translate(273.4,1402) scale(1,1.04)" text-anchor="middle">0</text>
<text class="tick" transform="translate(528.2,1402) scale(1,1.04)" text-anchor="middle">200</text>
<text class="tick" transform="translate(778.5,1402) scale(1,1.04)" text-anchor="middle">400</text>
<text class="tick" transform="translate(1027,1402) scale(1,1.04)" text-anchor="middle">600</text>
<text class="tick" transform="translate(1276.7,1402) scale(1,1.04)" text-anchor="middle">800</text>
<text class="tick" transform="translate(1529.3,1402) scale(1,1.04)" text-anchor="middle">1000</text>
</g>
<g id="titles">
<text class="title" transform="translate(912.2,1473.4) scale(1,1.04)" text-anchor="middle">Epoch</text>
<text class="title" transform="translate(75,1408) rotate(-90) scale(1,1.04)" xml:space="preserve"><tspan x="0.0" textLength="143.7" lengthAdjust="spacing">Root</tspan> <tspan x="161.1" textLength="161.5" lengthAdjust="spacing">Mean</tspan> <tspan x="341.0" textLength="252.8" lengthAdjust="spacing">Squared</tspan> <tspan x="613.1" textLength="155.4" lengthAdjust="spacing">Error</tspan> <tspan x="785.8" textLength="60.9" lengthAdjust="spacing">of</tspan> <tspan x="861.0" textLength="342.2" lengthAdjust="spacing">Verification</tspan> <tspan x="1223.1" textLength="133.9" lengthAdjust="spacing">Data</tspan></text>
</g>
<g id="legend">
<line x1="797.5" y1="111.5" x2="990.5" y2="111.5" stroke="#000000" stroke-width="5" stroke-linecap="round"/>
<text class="leg" transform="translate(1053.2,136.2) scale(1,1.04)">Hidden<tspan dy="1.9" stroke="#000" stroke-width="3.8" stroke-linejoin="miter">_</tspan><tspan dy="-1.9">Dim=2</tspan></text>
<line x1="797.5" y1="185.5" x2="990.5" y2="185.5" stroke="#0000ff" stroke-width="5" stroke-linecap="round"/>
<text class="leg" transform="translate(1053.2,210.8) scale(1,1.04)">Hidden<tspan dy="1.9" stroke="#000" stroke-width="3.8" stroke-linejoin="miter">_</tspan><tspan dy="-1.9">Dim=5</tspan></text>
<line x1="797.5" y1="260.4" x2="990.5" y2="260.4" stroke="#339966" stroke-width="5" stroke-linecap="round"/>
<text class="leg" transform="translate(1055.1,285.6) scale(1,1.04)">Hidden<tspan dy="1.9" stroke="#000" stroke-width="3.8" stroke-linejoin="miter">_</tspan><tspan dy="-1.9">Dim=10</tspan></text>
<line x1="797.5" y1="335.5" x2="990.5" y2="335.5" stroke="#6666ff" stroke-width="5" stroke-linecap="round"/>
<text class="leg" transform="translate(1055.1,359.9) scale(1,1.04)">Hidden<tspan dy="1.9" stroke="#000" stroke-width="3.8" stroke-linejoin="miter">_</tspan><tspan dy="-1.9">Dim=15</tspan></text>
<line x1="797.5" y1="410.6" x2="990.5" y2="410.6" stroke="#ff0000" stroke-width="5" stroke-linecap="round"/>
<text class="leg" transform="translate(1055.1,434.8) scale(1,1.04)">Hidden<tspan dy="1.9" stroke="#000" stroke-width="3.8" stroke-linejoin="miter">_</tspan><tspan dy="-1.9">Dim=20</tspan></text>
</g>
</svg>
</body>
</html>
